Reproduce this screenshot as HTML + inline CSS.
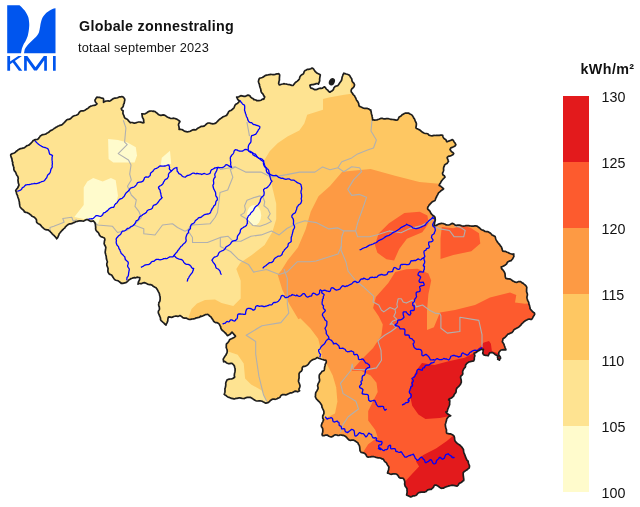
<!DOCTYPE html>
<html><head><meta charset="utf-8"><style>
html,body{margin:0;padding:0;background:#fff;}
svg{display:block;font-family:"Liberation Sans",sans-serif;}
</style></head><body>
<svg width="640" height="507" viewBox="0 0 640 507">
<defs><clipPath id="bel"><polygon points="10.8,154.4 11.7,153.9 12.7,153.5 13.7,153.2 14.6,152.8 15.5,152.1 16.2,151.3 17.1,150.8 17.9,150.0 18.8,149.4 19.7,148.9 20.7,148.6 21.8,148.4 22.8,148.1 23.9,147.9 24.8,147.5 25.6,146.7 26.4,146.1 27.3,145.6 28.3,145.3 29.2,144.9 29.9,144.1 30.7,143.5 31.4,142.7 32.1,142.0 32.7,141.1 33.4,140.4 34.4,139.9 35.4,139.7 36.5,139.5 37.5,139.3 38.4,138.8 39.0,137.8 39.7,136.9 40.3,136.0 41.1,135.5 42.0,134.9 43.0,134.6 44.1,134.5 45.1,134.2 46.1,133.9 46.9,133.2 47.8,132.8 48.7,132.3 49.4,131.6 50.2,130.8 51.1,130.4 52.0,129.9 52.9,129.4 53.7,128.9 54.5,128.2 55.4,127.7 56.2,127.1 57.1,126.7 58.0,126.1 59.0,125.8 59.9,125.4 61.0,125.2 61.9,124.8 62.7,124.1 63.4,123.3 64.2,122.6 64.9,121.9 65.6,121.1 66.3,120.4 67.1,119.7 68.1,119.3 69.2,119.3 70.2,118.9 71.0,118.3 71.7,117.5 72.4,116.7 73.2,116.2 74.2,115.8 75.2,115.5 76.3,115.2 77.2,114.8 78.1,114.3 78.7,113.4 79.2,112.4 80.0,111.7 80.8,111.0 81.8,110.8 83.0,110.8 84.1,110.6 84.9,110.2 85.8,109.6 86.7,109.0 87.6,108.5 88.5,107.9 89.2,107.0 90.1,106.6 91.0,106.1 92.1,105.8 93.1,105.5 94.1,105.3 95.2,105.2 96.1,104.6 97.0,103.8 96.1,102.8 95.3,101.8 94.9,100.1 95.5,99.2 96.0,98.3 96.8,97.2 98.3,97.4 99.5,97.4 100.7,97.8 101.8,98.2 103.2,98.3 103.6,99.3 103.6,100.3 103.6,101.4 103.5,102.3 104.5,101.6 105.6,101.2 106.8,101.0 108.1,100.9 109.3,101.1 110.4,100.7 111.4,100.1 112.4,99.2 113.4,98.6 114.4,98.2 115.5,98.1 116.6,98.0 117.6,97.7 118.6,97.2 119.6,96.8 120.8,96.9 121.9,96.5 123.0,97.0 123.8,97.7 124.7,98.9 124.8,100.1 124.5,101.4 124.3,102.6 124.1,103.5 123.5,104.4 123.4,105.7 123.0,106.8 122.3,107.6 121.3,108.4 121.5,109.4 122.1,110.2 123.1,110.7 123.0,112.1 122.9,113.3 123.3,114.4 123.8,115.4 124.2,116.5 124.5,117.6 125.3,118.2 126.2,118.8 127.1,119.2 127.8,119.8 128.6,120.9 129.5,121.8 130.3,122.8 131.3,122.5 132.3,122.5 133.4,122.9 134.4,123.2 135.4,123.0 136.4,122.6 137.5,122.3 138.5,122.0 139.5,122.0 140.5,122.2 141.6,122.4 142.6,122.8 143.9,122.7 143.7,121.7 143.7,120.7 143.6,119.7 143.3,118.7 142.6,117.8 142.3,116.8 142.2,115.8 142.1,114.8 141.8,113.8 142.9,113.8 144.0,114.0 145.0,113.8 146.0,113.3 147.0,112.7 147.8,112.0 148.8,111.4 149.9,111.1 151.0,111.0 151.8,111.0 152.7,111.3 153.9,111.2 154.9,111.5 155.7,112.1 156.5,112.8 157.3,113.4 158.1,114.2 158.9,114.8 159.9,115.1 160.9,115.5 162.0,115.1 163.2,114.9 164.2,115.1 165.1,115.6 166.0,116.1 166.9,116.7 167.8,117.2 168.8,117.6 169.7,118.0 170.7,118.4 171.7,118.5 172.8,118.3 173.9,118.2 175.0,118.5 176.0,118.9 177.0,119.3 177.9,119.9 178.8,120.5 179.9,121.5 179.4,122.5 178.8,123.5 178.5,124.5 178.6,125.6 178.9,126.6 179.1,127.6 179.2,128.7 179.1,129.3 180.2,129.2 181.2,129.5 182.2,129.7 183.2,130.3 184.2,130.9 185.2,131.4 186.2,131.6 187.3,131.8 188.4,131.7 189.5,131.5 190.2,131.2 191.1,130.7 192.0,130.2 192.9,129.8 194.0,129.7 195.2,129.8 196.2,129.6 197.0,128.9 197.8,128.2 198.8,127.7 199.7,127.3 200.6,126.6 201.6,126.4 202.8,126.4 203.9,126.2 204.7,125.6 205.6,124.9 206.4,124.0 207.3,123.4 208.4,123.0 209.5,123.0 210.6,123.4 211.8,123.6 212.9,123.8 213.9,123.7 215.3,123.4 216.2,122.8 216.9,122.0 217.7,121.2 218.4,120.4 219.2,119.7 220.0,119.0 220.9,118.4 221.8,117.8 222.6,117.0 223.5,116.6 224.6,116.2 225.6,115.8 226.7,115.4 227.1,114.4 227.8,113.6 228.2,112.7 228.7,111.7 229.4,111.1 230.4,110.6 231.4,110.2 232.2,109.5 232.9,108.8 233.7,108.2 234.2,107.3 234.6,106.3 235.0,105.3 235.6,104.5 236.4,103.9 237.3,103.4 238.2,102.8 238.8,102.0 239.3,101.0 238.4,100.2 237.7,99.3 237.2,98.2 236.7,97.1 237.8,97.1 238.8,96.8 239.8,96.2 240.8,95.7 241.9,95.9 243.0,96.1 244.0,96.3 245.0,96.4 246.0,95.9 247.0,95.4 248.0,95.2 249.0,95.4 249.9,95.7 250.3,96.6 251.0,97.4 251.8,98.0 252.8,98.5 253.6,99.1 253.7,99.6 254.8,99.7 255.9,100.0 256.9,100.7 258.0,100.7 259.0,100.6 260.0,100.5 261.1,100.2 262.0,99.5 263.0,98.9 263.7,99.3 264.3,97.9 264.7,96.9 264.0,96.1 263.5,95.1 263.0,94.1 262.3,93.3 261.6,92.6 261.1,91.6 260.9,90.8 260.8,89.7 260.6,88.7 260.2,87.7 259.9,86.7 259.6,85.7 259.5,84.6 259.1,83.6 258.7,82.6 258.4,81.6 258.7,80.1 259.3,78.5 260.2,78.0 261.2,77.8 262.2,77.5 263.1,77.1 263.9,76.5 264.8,75.8 265.7,75.4 266.7,75.1 267.7,75.0 268.8,74.7 269.8,74.6 270.8,74.4 271.9,74.5 272.9,74.6 274.0,74.7 275.0,74.5 276.0,74.1 277.0,73.8 278.1,73.8 278.8,73.7 279.7,75.0 279.6,76.0 279.5,77.1 279.4,78.1 279.4,79.2 279.4,80.2 279.0,81.2 278.9,82.3 278.6,83.3 279.2,84.8 280.4,84.6 281.5,84.3 282.7,84.0 283.7,83.7 284.8,83.9 285.8,84.0 286.9,84.2 287.9,84.5 288.9,84.6 290.0,84.7 291.0,85.1 292.0,85.5 293.2,85.4 293.8,84.4 294.5,83.6 295.2,82.7 296.1,82.0 297.0,81.4 297.9,80.7 298.6,79.9 299.2,79.2 299.6,78.2 299.8,77.1 300.3,76.2 300.9,75.4 301.8,74.8 302.7,74.3 303.6,73.6 303.9,72.4 304.4,71.3 305.1,70.5 306.3,70.0 307.2,69.4 308.4,69.4 309.6,69.2 310.8,68.8 312.1,68.1 313.1,68.5 313.8,69.3 314.3,70.2 314.9,71.1 315.6,71.8 316.4,72.5 317.3,73.3 318.3,73.7 319.4,74.2 320.3,75.0 320.1,76.1 319.9,77.2 319.7,78.4 319.6,79.5 319.7,80.7 319.3,81.9 318.8,83.2 318.4,84.1 317.3,83.6 316.2,83.6 315.0,84.2 313.9,84.4 313.1,84.7 311.9,84.6 310.9,84.8 309.9,85.3 310.3,86.8 310.9,88.2 312.2,88.3 313.4,88.9 314.8,89.7 315.9,89.7 316.9,89.4 317.9,88.9 319.0,88.5 320.0,88.2 321.1,88.3 322.3,88.2 323.1,87.6 324.4,86.8 325.3,87.4 325.9,88.5 326.7,89.3 327.7,90.1 328.5,91.2 329.9,92.2 330.8,91.6 331.8,91.0 332.8,90.3 333.5,89.4 333.8,88.1 334.5,87.2 335.3,86.4 336.5,86.0 337.7,85.6 338.5,84.7 339.2,83.8 339.7,82.8 340.4,81.9 341.1,81.0 341.6,80.0 341.9,78.8 342.0,77.8 342.3,76.8 342.6,75.9 342.9,74.9 343.4,74.0 343.8,73.2 345.0,73.6 346.2,74.0 347.3,74.3 348.5,74.7 349.4,75.3 350.1,76.2 350.6,77.3 351.3,78.2 351.8,78.9 351.9,80.2 352.2,81.3 352.9,82.3 353.8,83.2 354.5,84.6 354.4,85.6 354.1,86.5 353.5,87.4 352.7,88.1 351.8,88.9 351.3,89.8 351.1,90.8 351.3,91.9 352.0,92.7 352.6,93.5 353.1,94.5 353.8,95.2 354.6,95.9 355.0,96.9 355.6,97.8 356.0,98.8 356.4,99.8 356.9,100.7 357.6,101.4 358.2,102.5 358.7,103.6 358.8,104.9 359.4,106.5 360.5,106.7 361.6,107.2 362.6,107.7 363.6,108.1 364.7,108.3 365.8,108.4 367.0,108.4 368.2,108.7 369.3,109.3 370.3,110.2 370.8,110.0 370.9,111.1 371.2,112.1 371.3,113.2 371.6,114.3 372.0,115.4 372.1,116.4 372.4,117.5 372.5,118.6 372.6,119.9 373.7,119.9 374.8,120.2 375.8,120.0 376.9,119.9 377.9,119.5 378.9,119.2 380.0,118.7 381.0,118.4 382.1,118.3 383.1,118.6 384.2,118.9 385.3,118.8 386.3,118.6 387.4,118.7 388.5,118.7 389.6,119.0 390.6,119.3 391.7,119.4 392.8,119.5 393.9,119.7 395.0,119.9 396.1,120.1 397.5,120.0 398.1,119.1 398.6,118.1 399.1,117.1 400.1,116.6 401.0,116.0 401.7,115.2 402.5,114.5 403.5,114.1 404.4,113.6 405.1,113.1 406.1,113.2 407.1,113.2 408.1,113.2 408.8,113.1 409.5,113.8 410.5,114.3 411.6,114.7 412.3,115.5 412.9,116.4 413.5,117.2 413.8,118.4 414.4,118.8 414.8,119.8 415.2,120.9 415.7,122.0 416.3,123.1 416.4,124.2 416.3,125.3 416.1,126.5 415.9,127.8 416.6,128.5 417.6,128.9 418.4,129.4 419.4,129.8 420.2,130.3 421.0,131.0 421.7,131.7 422.6,132.1 423.4,132.8 424.4,133.2 425.3,133.5 426.5,133.5 427.5,133.8 428.4,134.3 428.8,135.0 429.9,135.5 430.9,135.7 432.0,135.8 433.0,135.6 434.1,135.4 435.2,135.5 436.2,135.3 437.3,135.4 438.4,135.4 439.4,135.3 440.5,135.1 441.5,135.0 442.7,135.4 442.9,136.5 443.3,137.5 443.9,138.3 444.7,139.0 445.7,139.5 446.2,140.4 446.7,141.7 447.7,141.6 448.7,141.1 449.6,140.7 450.6,140.4 451.6,139.9 452.4,139.6 453.3,140.4 453.8,141.4 454.4,142.3 455.2,143.3 455.9,144.8 455.3,145.6 454.6,146.3 453.6,146.8 452.6,147.2 451.6,147.6 450.7,148.1 450.0,149.7 450.7,150.4 451.2,151.3 451.9,152.0 452.9,152.5 453.7,153.6 453.1,154.5 452.2,155.1 451.4,155.5 450.4,155.9 449.3,156.1 448.3,156.4 447.2,157.3 447.3,158.3 447.8,159.3 448.1,160.2 448.5,161.2 447.9,162.1 447.3,163.2 446.4,163.8 445.4,164.3 444.5,165.1 444.3,166.1 443.8,167.0 443.6,168.0 443.5,169.0 443.7,170.1 443.4,171.1 443.0,172.1 442.5,173.1 442.7,174.2 443.3,175.2 444.4,175.8 445.0,177.2 444.2,178.0 443.5,178.7 442.7,179.5 442.1,180.3 441.4,181.1 440.9,182.0 440.5,183.0 439.8,183.8 439.2,185.4 440.3,185.9 441.1,186.6 442.0,187.3 442.8,188.0 443.6,188.8 442.8,189.5 442.0,190.1 441.0,190.7 440.3,191.4 439.5,192.1 438.6,192.7 438.2,193.7 437.7,194.7 437.1,195.5 436.7,196.5 436.2,197.5 435.7,198.4 435.4,199.5 434.9,200.6 433.9,201.1 432.8,201.5 431.9,202.1 431.2,202.9 430.5,203.6 429.8,204.5 429.0,205.2 428.5,206.1 427.9,207.0 427.6,207.9 427.7,209.2 428.7,210.0 429.6,210.8 430.2,211.8 430.6,212.8 431.3,213.9 432.1,214.7 433.0,215.5 433.8,216.0 434.6,216.6 435.1,217.8 435.2,218.9 435.3,220.1 435.0,221.2 434.7,222.3 434.5,223.4 434.4,224.5 434.1,225.5 435.2,225.6 436.3,225.5 437.3,224.8 438.3,224.3 439.3,223.8 440.4,223.6 441.6,223.4 442.6,223.5 443.6,223.7 444.6,224.0 445.6,224.6 446.6,224.9 447.6,225.0 448.6,225.0 449.6,224.7 450.6,224.2 451.6,223.6 452.8,223.4 453.7,223.9 454.6,224.7 455.5,225.1 456.5,225.3 457.5,225.2 458.6,225.1 459.6,225.2 460.5,225.3 461.5,225.7 462.5,226.0 463.5,226.1 464.6,226.0 465.6,225.7 466.6,225.5 467.6,225.6 468.6,225.6 469.6,225.8 470.6,226.0 471.7,226.1 472.7,226.1 473.7,226.1 474.7,225.9 475.8,225.9 476.8,226.1 477.7,226.6 478.5,227.2 479.3,227.8 480.1,228.4 480.8,229.3 481.7,229.8 482.7,230.1 483.6,230.4 484.4,231.1 485.3,231.5 486.4,231.6 487.4,231.7 488.4,231.9 489.3,232.4 490.1,233.0 490.9,233.7 491.4,234.1 492.0,235.0 493.1,235.4 494.1,236.0 495.1,236.6 495.4,237.6 495.7,238.7 496.1,239.8 496.6,240.7 497.2,241.5 497.7,242.5 498.4,243.2 499.0,244.0 499.8,244.7 500.2,245.7 500.9,246.4 501.6,247.2 501.8,248.3 502.1,249.2 502.4,250.2 503.0,251.2 504.1,251.3 505.2,251.3 506.1,251.7 507.1,252.2 508.1,252.5 509.0,253.1 510.0,253.5 511.0,253.8 512.0,254.0 512.9,254.5 513.8,254.0 513.7,255.1 513.9,256.3 513.5,257.2 513.0,258.1 512.5,259.0 511.8,259.8 511.1,260.6 510.0,260.9 509.1,261.3 508.1,261.8 507.3,262.4 506.8,263.6 506.1,264.4 505.3,265.0 504.4,265.6 503.5,266.0 502.5,266.5 501.3,266.9 501.4,268.0 501.9,269.0 502.8,269.8 503.5,270.7 504.1,271.6 504.6,272.6 505.0,273.6 505.1,274.7 505.2,275.9 505.3,277.0 505.9,278.4 506.9,278.6 508.0,278.8 509.1,278.9 510.1,279.1 511.0,279.6 511.9,280.2 512.6,280.9 513.6,281.3 514.5,281.9 515.5,282.2 516.5,282.3 517.5,282.1 518.6,281.6 519.7,281.5 520.7,281.6 521.6,282.5 522.5,283.2 523.0,283.0 523.7,283.9 524.7,284.6 525.5,285.4 526.3,286.3 526.8,287.3 526.7,288.4 526.6,289.6 526.6,290.7 526.6,291.8 527.0,292.9 527.4,294.1 527.4,295.1 527.1,296.2 526.9,297.3 527.1,298.4 527.4,299.4 527.6,300.4 528.2,301.4 528.7,302.4 528.9,303.4 528.9,304.2 529.4,305.1 529.7,306.2 530.0,307.2 530.0,308.5 530.5,309.3 531.2,310.2 532.0,310.9 532.6,311.7 533.5,312.3 534.4,313.0 534.7,314.2 534.2,315.2 533.6,316.1 533.0,317.1 532.5,318.1 531.7,319.3 530.6,319.4 529.3,319.0 528.2,319.3 527.3,319.7 526.3,320.1 525.4,320.7 524.5,321.3 523.6,322.0 522.9,322.8 522.1,323.5 521.4,324.2 520.8,325.2 520.0,325.9 519.3,326.6 518.4,327.2 517.5,327.7 516.5,328.3 515.6,328.8 514.7,329.3 513.8,329.9 513.3,330.9 512.6,331.8 511.8,332.6 510.8,333.0 509.8,333.4 508.8,333.9 507.7,334.3 507.0,335.2 506.2,336.1 505.6,336.8 504.8,337.5 503.8,338.2 502.9,339.0 502.7,340.5 502.3,341.8 503.0,342.7 503.6,343.6 504.1,344.7 504.4,345.7 504.8,346.7 505.1,347.8 505.6,348.8 505.9,349.8 504.7,349.9 503.4,349.7 502.2,349.8 500.7,350.2 499.8,351.3 498.8,352.6 498.8,353.8 498.8,354.9 498.0,356.1 497.4,356.9 497.8,357.9 498.1,358.9 497.7,359.2 498.9,359.7 499.4,360.2 499.9,359.0 500.6,358.2 500.2,356.8 499.4,355.7 498.3,355.9 497.3,355.5 496.4,355.1 495.3,354.7 494.5,353.9 493.6,353.3 492.8,352.6 491.4,352.6 489.6,352.8 489.1,353.8 488.6,354.9 488.1,355.8 487.0,355.5 485.9,355.3 484.5,355.2 483.5,354.5 482.7,353.1 483.0,351.9 483.1,350.6 483.4,349.3 481.8,349.3 480.4,349.8 479.2,350.4 478.0,351.0 476.9,351.8 476.1,352.5 475.2,352.9 474.2,353.1 474.4,354.5 474.9,355.9 474.4,357.0 474.3,358.3 474.3,359.5 473.7,360.9 472.6,361.2 471.4,361.3 470.3,361.6 469.0,361.9 468.0,362.6 467.0,363.3 466.2,364.2 465.5,365.3 465.5,366.4 465.2,367.3 464.3,368.1 463.8,368.9 463.3,369.9 462.8,370.8 462.6,371.8 462.7,372.9 462.8,373.9 462.3,374.8 461.4,375.6 460.7,376.6 460.6,377.7 460.9,378.9 461.2,380.0 461.3,381.2 461.3,382.3 460.8,383.4 460.4,384.5 459.7,385.3 459.0,386.1 458.2,386.9 457.4,387.6 456.7,388.4 456.3,389.5 456.1,390.6 456.1,391.9 455.6,392.9 454.8,393.8 454.1,394.8 453.8,395.8 453.0,396.6 452.2,397.3 451.4,398.0 450.4,398.4 449.3,398.8 448.6,400.0 449.6,400.0 449.8,401.1 449.7,402.1 449.6,403.2 449.7,404.3 449.4,405.3 449.0,406.3 448.6,407.3 448.2,408.1 447.8,409.1 447.5,410.2 447.3,411.4 446.7,412.3 445.9,412.0 446.6,412.9 447.3,413.7 448.2,414.1 449.0,414.8 449.9,415.4 450.7,415.7 449.7,416.1 448.8,416.6 447.9,417.3 447.3,418.3 446.7,419.0 446.6,420.1 446.3,421.1 446.0,422.1 445.7,423.2 445.3,424.2 445.4,425.3 445.5,426.3 445.7,427.4 445.9,428.4 446.4,429.4 446.5,430.5 446.4,431.6 446.5,432.8 447.3,433.5 448.3,433.7 449.3,433.9 450.5,433.9 451.4,434.3 452.3,434.8 453.6,435.5 454.1,436.4 454.5,437.5 454.6,438.7 454.7,439.9 455.1,441.0 455.7,441.9 456.5,442.7 457.4,443.5 458.3,444.1 459.2,444.7 460.1,445.3 460.9,446.1 461.7,446.8 462.2,447.8 462.9,448.6 463.5,449.6 463.5,450.7 463.7,451.8 463.9,452.9 464.4,453.9 464.8,454.9 465.2,455.9 465.5,457.0 466.0,458.0 466.4,458.9 466.8,460.0 467.6,460.7 468.2,461.2 468.2,462.2 468.5,463.3 468.9,464.4 469.4,465.4 469.5,466.4 469.2,468.0 468.3,468.6 467.5,469.3 466.7,470.1 465.7,470.6 464.8,471.2 464.0,471.8 463.2,472.8 463.2,473.9 463.2,474.9 463.3,476.0 463.5,477.0 463.6,478.1 463.8,479.1 463.7,480.6 462.8,481.1 462.1,481.8 461.2,482.4 460.3,482.9 459.3,483.3 458.7,484.2 458.2,485.2 457.1,486.1 456.0,485.9 455.0,485.7 453.9,485.4 452.9,485.4 451.8,485.2 450.7,485.5 449.7,485.8 448.8,485.8 447.9,486.4 446.9,486.5 445.9,486.9 444.9,487.2 444.1,487.7 443.6,488.2 442.5,488.2 441.4,488.3 440.4,487.9 439.6,487.4 438.8,486.6 437.9,486.0 437.0,485.5 436.1,485.1 434.6,485.1 434.0,486.0 433.5,487.1 432.8,487.9 432.0,488.6 431.2,489.3 429.9,489.4 428.8,489.6 427.7,489.9 426.9,490.6 426.4,491.4 425.4,491.8 424.4,492.2 423.3,492.1 422.2,492.0 421.1,492.1 420.1,492.3 418.9,492.6 418.1,493.1 417.3,493.9 416.6,494.9 415.7,495.5 414.7,495.8 413.5,495.8 412.5,496.1 411.6,496.7 410.7,497.0 409.7,496.4 408.6,495.9 407.5,495.5 406.6,495.0 406.8,494.0 407.0,493.0 407.2,491.9 407.0,490.9 407.0,489.8 407.0,488.7 406.4,487.8 405.8,486.9 405.1,486.0 404.9,485.0 404.6,484.0 404.8,482.8 404.7,481.6 404.5,480.5 404.0,479.5 403.2,478.3 402.1,478.2 400.8,478.2 399.8,477.9 399.0,477.3 398.4,476.3 397.9,475.3 397.0,474.5 396.1,474.0 395.1,473.8 394.1,473.9 393.0,473.9 392.0,474.1 390.9,474.3 390.0,474.0 389.0,473.5 388.1,472.9 387.5,473.1 387.8,472.1 388.1,471.1 388.5,470.2 388.7,469.2 388.7,468.1 389.0,467.1 388.4,466.2 387.7,465.3 387.1,464.4 386.7,463.3 386.0,462.5 385.1,461.8 384.3,461.0 383.8,460.0 383.1,459.1 382.1,458.9 381.2,458.4 380.2,458.0 379.2,457.9 378.1,457.8 377.2,457.6 376.1,457.4 375.0,457.0 373.9,456.7 372.8,456.7 371.7,456.6 370.6,456.8 369.4,457.0 368.3,457.1 367.0,456.6 366.4,455.7 365.9,454.6 365.2,453.9 364.4,453.3 363.4,452.9 362.4,452.6 361.2,452.4 360.5,451.5 360.0,450.6 359.9,449.5 359.8,448.4 359.7,447.2 359.5,446.2 359.2,445.2 358.4,444.3 358.1,443.3 357.5,442.4 356.6,441.9 355.6,441.3 354.8,440.7 353.8,440.2 352.8,440.0 351.6,440.2 350.4,440.4 349.1,440.0 348.2,439.2 347.3,438.3 346.6,437.3 345.6,436.5 344.7,435.9 343.8,435.4 342.7,435.3 341.7,435.1 340.6,435.0 339.8,435.0 338.9,435.5 337.8,435.4 336.7,435.0 335.6,434.8 334.6,435.0 333.7,435.6 332.8,436.4 331.8,436.8 330.6,436.8 329.6,436.5 328.5,436.0 327.5,435.2 326.4,435.1 325.3,435.2 324.1,435.6 322.4,435.6 322.1,434.5 322.3,433.3 322.7,432.2 322.8,431.1 322.8,430.0 322.7,428.9 322.3,427.8 321.5,426.8 321.3,425.4 321.6,424.4 321.9,423.4 322.5,422.5 322.9,421.5 323.2,420.6 323.6,419.8 322.7,418.0 322.7,417.0 322.7,416.0 323.2,415.0 323.7,414.1 324.0,413.0 323.9,412.0 323.8,411.0 323.4,410.1 322.9,409.1 322.5,408.2 322.0,407.3 321.9,406.3 321.7,405.2 321.1,404.3 320.5,403.4 319.9,402.5 319.1,401.7 318.3,400.9 317.6,400.1 316.8,399.4 316.1,398.5 315.7,397.5 315.3,396.7 315.5,395.7 315.5,394.6 315.6,393.5 315.8,392.5 316.4,391.6 317.0,390.7 317.5,389.7 318.0,388.8 318.1,387.7 317.8,386.6 317.6,385.5 317.9,384.5 318.3,383.4 318.9,382.4 319.4,381.3 319.6,380.2 319.5,379.1 319.2,378.0 319.2,376.9 319.2,375.8 319.4,374.7 320.1,373.9 320.8,373.1 321.4,372.3 322.0,371.4 323.0,371.0 324.1,370.4 324.4,369.4 324.5,368.4 324.6,367.4 324.8,366.4 325.1,365.4 325.2,364.4 325.7,363.5 326.2,362.6 326.3,361.6 326.0,360.4 324.9,360.2 323.8,359.9 322.7,359.5 321.5,359.2 320.5,358.8 319.3,358.5 318.2,358.0 317.4,357.5 316.4,358.1 315.5,358.7 314.4,359.1 313.2,359.4 312.2,360.0 311.3,360.6 310.4,361.3 309.7,362.3 309.0,363.1 308.4,364.1 307.6,364.8 306.7,365.5 305.7,366.0 304.7,366.4 303.4,366.4 302.6,367.2 302.1,368.2 302.3,369.3 301.9,370.3 301.3,371.2 300.2,371.9 299.5,372.8 299.1,373.7 299.0,374.8 299.1,376.0 299.0,376.9 299.1,377.9 298.8,378.9 298.7,380.0 298.5,381.0 298.7,382.0 299.1,383.0 299.5,384.0 299.8,385.0 300.0,386.0 299.8,387.0 299.4,388.1 298.9,389.1 299.1,390.1 299.6,390.8 298.7,391.3 297.7,391.8 296.6,391.4 295.5,391.2 294.4,391.4 293.5,391.9 292.5,392.5 291.5,392.9 290.5,392.9 289.5,393.2 288.5,393.7 287.5,394.1 286.6,394.7 285.6,394.9 284.5,394.7 283.3,394.6 282.3,394.7 281.4,395.2 280.6,396.0 280.1,397.2 279.1,397.7 278.2,398.1 277.3,398.6 276.4,399.0 275.3,399.3 274.2,399.2 273.0,399.2 272.0,399.4 271.2,400.1 270.3,400.6 269.6,401.5 268.7,402.1 267.9,402.7 266.9,402.9 265.8,403.2 264.9,402.7 264.0,402.2 263.0,401.8 262.1,401.3 261.1,401.0 260.1,400.9 259.1,400.8 257.9,401.0 256.9,401.0 255.9,400.7 255.0,400.3 254.1,399.7 253.2,399.1 252.3,398.5 251.5,397.9 250.6,397.4 249.4,397.3 248.3,397.3 247.3,397.4 246.3,397.6 245.3,398.0 244.3,398.6 243.2,398.5 242.2,398.4 241.1,398.2 240.1,397.9 239.0,397.8 238.0,398.2 237.0,398.3 236.0,398.4 234.9,398.8 233.9,398.9 232.9,398.6 231.8,398.4 231.1,398.3 230.1,397.8 229.0,397.4 227.9,397.0 227.0,396.4 226.1,395.6 225.1,395.0 224.2,394.4 224.6,393.3 224.9,392.2 225.0,391.2 225.0,390.0 224.9,388.9 225.3,387.8 225.5,386.7 225.7,385.8 225.8,384.5 225.7,383.2 226.0,382.1 226.5,381.1 227.2,379.7 228.3,379.4 229.3,379.1 230.5,379.0 231.6,379.0 232.6,378.5 233.5,378.1 234.7,377.0 234.3,375.8 234.4,374.7 234.5,373.6 234.8,372.5 235.0,371.4 235.1,370.3 235.1,369.2 235.0,368.2 234.6,367.2 234.4,366.0 233.8,365.1 233.1,364.3 232.0,363.4 230.9,363.3 229.6,363.6 228.5,363.6 227.4,363.3 226.3,362.7 225.4,361.8 224.3,361.4 223.6,361.8 223.5,360.6 223.2,359.4 223.5,358.4 224.2,357.5 224.7,356.6 225.3,355.7 226.0,354.9 226.4,353.9 227.0,352.8 227.2,351.7 227.2,350.6 227.0,349.5 226.6,348.5 226.2,347.4 226.3,346.3 226.3,345.2 226.4,344.1 227.1,343.3 227.8,342.6 228.5,341.8 229.1,340.9 229.5,339.9 230.4,339.1 231.5,338.8 232.5,338.3 233.5,337.8 234.5,337.3 235.5,336.2 234.9,335.3 234.0,334.5 233.4,333.6 232.6,332.9 232.0,332.1 231.2,332.9 230.5,333.9 229.7,334.6 228.7,335.1 227.3,335.6 226.5,334.4 225.7,333.3 224.9,332.8 224.2,331.9 223.3,331.2 222.5,330.5 221.6,329.7 221.2,328.8 220.7,327.9 220.7,326.9 220.1,325.9 219.6,324.8 219.0,323.9 218.1,323.2 217.2,322.7 215.9,322.6 214.8,322.2 213.9,321.5 213.3,320.7 212.9,319.7 212.2,318.9 211.6,318.1 211.1,317.1 210.4,316.4 209.5,315.9 208.8,315.1 207.8,314.3 206.8,314.5 205.7,314.6 204.6,315.1 203.6,315.5 202.6,316.0 201.5,316.5 200.6,316.1 199.7,317.1 198.8,317.4 197.7,317.6 196.7,317.8 195.7,318.1 194.7,318.7 193.6,318.8 192.6,319.0 191.5,319.1 190.5,319.4 189.4,319.5 188.4,319.1 187.5,318.7 186.6,318.2 185.5,318.1 184.5,318.1 183.5,317.9 182.6,317.4 181.8,316.7 180.9,316.1 179.9,315.6 178.9,316.1 177.8,316.3 176.7,316.1 175.6,316.0 174.6,316.3 173.5,316.6 172.5,317.2 171.5,317.4 170.4,317.1 168.8,316.8 168.2,317.6 168.0,318.6 167.8,319.6 167.8,320.7 167.5,321.7 167.1,322.6 166.6,323.5 166.1,324.4 166.0,325.1 165.1,324.4 164.4,323.6 163.7,322.8 162.8,322.1 162.0,321.4 161.1,320.7 160.5,319.6 160.5,318.4 160.3,317.3 159.8,316.4 159.4,315.4 159.0,314.4 158.5,313.4 158.3,312.3 158.4,311.1 159.0,310.1 159.5,309.1 159.4,308.0 159.3,306.9 158.8,305.8 158.6,304.7 158.8,303.7 158.9,302.6 159.6,301.7 160.0,300.6 160.1,299.5 160.2,298.4 160.1,297.3 160.0,296.3 159.6,295.2 159.5,294.2 159.2,293.1 158.6,292.1 158.2,291.4 157.7,290.4 157.2,289.4 156.6,288.6 156.0,287.7 155.0,287.2 154.1,286.7 153.1,286.2 152.6,285.6 151.6,285.0 150.6,284.6 149.6,284.6 148.5,284.4 147.5,284.1 146.5,283.6 145.6,283.0 144.3,282.6 143.3,282.8 142.3,283.2 141.4,283.6 140.3,283.6 139.3,283.5 138.3,283.1 138.0,284.2 138.2,283.1 138.4,282.1 138.8,281.1 139.4,280.2 139.7,279.2 139.8,277.6 138.8,277.5 137.8,277.2 136.8,277.4 135.6,277.8 134.6,277.8 134.3,277.4 133.2,277.9 132.1,278.3 131.1,278.6 130.1,279.2 129.1,279.7 128.4,280.6 127.5,281.3 126.7,282.1 125.8,282.7 124.8,282.9 123.8,283.1 122.8,283.3 121.6,283.2 121.2,283.4 120.5,282.7 119.7,282.0 118.9,281.4 118.0,280.8 117.0,280.5 115.9,280.2 114.9,279.8 114.2,279.0 113.6,278.1 113.0,277.2 112.4,276.3 111.9,275.3 111.0,274.8 110.0,274.4 109.0,273.8 108.5,272.8 108.0,272.1 107.9,271.0 107.9,269.9 108.1,268.8 107.8,267.7 107.4,266.7 106.9,265.6 106.8,264.5 106.8,263.5 107.3,262.3 107.3,261.2 106.9,260.2 106.5,259.1 106.3,258.1 106.3,257.0 106.1,255.9 105.8,254.9 105.5,253.8 105.2,252.8 105.2,251.7 105.4,250.6 105.5,249.5 105.7,248.4 105.8,247.3 105.4,246.3 104.8,245.3 104.3,244.2 104.1,243.2 104.4,242.1 104.4,241.0 104.9,239.9 104.6,238.4 103.8,237.7 102.7,237.3 101.7,236.9 100.7,236.4 99.9,235.7 99.3,234.7 99.0,233.9 98.6,233.0 97.8,232.2 97.0,231.5 96.3,230.7 95.8,229.8 95.6,228.7 95.7,227.7 95.6,226.6 95.5,225.6 95.4,224.6 95.1,223.6 94.8,222.6 94.1,221.8 93.4,220.9 92.3,221.2 91.1,221.3 90.1,221.1 89.1,220.5 88.2,219.9 87.1,219.5 86.1,219.7 85.1,220.2 84.2,220.8 83.3,221.1 82.2,221.0 81.2,220.9 80.1,220.8 79.1,220.8 78.1,221.2 77.2,221.4 76.2,221.5 75.2,222.1 74.3,222.6 73.5,222.7 72.5,223.2 71.6,223.7 70.3,223.8 69.2,223.9 68.2,224.5 67.3,225.2 66.5,225.9 65.7,226.6 65.0,227.6 64.3,228.4 63.5,228.9 62.9,229.7 62.0,230.5 61.3,231.3 60.6,232.1 59.9,233.0 59.2,233.8 58.9,234.9 58.4,235.9 58.0,236.9 57.5,237.9 56.7,238.8 56.1,237.8 55.4,236.9 54.6,236.1 53.9,235.3 53.0,234.6 52.2,233.8 51.5,232.9 50.6,232.1 49.9,231.2 49.0,230.6 48.2,229.9 47.0,229.8 45.8,229.7 44.8,229.2 43.9,228.6 43.1,227.8 42.3,227.1 41.5,226.3 41.0,225.6 40.3,224.8 39.4,224.2 38.4,223.7 37.5,223.1 36.7,222.4 36.5,221.3 36.5,220.0 36.0,219.1 35.4,218.3 34.6,217.5 33.7,216.9 32.7,216.5 31.6,216.0 31.4,215.4 30.5,214.8 29.7,214.1 28.8,213.6 27.9,213.1 27.0,212.5 26.0,212.4 25.1,212.1 24.4,211.9 24.0,210.9 23.3,210.1 22.5,209.4 21.6,208.8 21.0,208.0 20.3,207.2 19.9,206.2 19.7,205.2 19.6,204.1 19.4,203.2 19.4,202.1 19.1,201.0 18.9,200.0 18.6,199.0 18.2,198.0 17.8,197.0 17.6,195.9 17.2,194.9 16.6,193.9 16.5,192.9 16.2,191.8 15.7,190.7 16.2,189.7 16.9,188.8 17.6,188.0 18.1,187.0 18.6,186.0 19.0,185.1 18.7,184.0 18.3,183.0 18.2,181.8 18.0,180.7 18.0,179.6 18.3,178.4 18.0,177.3 17.7,176.3 17.0,175.5 16.5,174.6 16.1,173.5 15.7,172.5 15.2,171.6 14.4,170.8 13.9,169.7 13.8,168.7 13.9,167.6 13.5,166.6 13.2,165.6 12.8,164.6 12.6,163.6 12.8,162.5 12.3,161.5 12.1,160.5 12.0,159.5 11.8,158.5 11.3,157.5 11.0,156.5 10.7,155.5 10.8,154.4"/></clipPath></defs>
<g clip-path="url(#bel)">
<rect x="0" y="60" width="560" height="447" fill="#fee391"/>
<polygon points="108.1,138.9 118,140.1 127.5,142.5 135.8,147.2 137,155.5 134.6,162.6 113.3,162.6 108.6,159" fill="#fffbcc"/>
<polygon points="83.7,187.4 87.3,181.5 93.2,177.9 102.7,181.5 110.9,177.9 115.7,180.3 118,195.7 115.7,205.1 101.5,214.6 97.9,224 92,219.3 84.9,219.3 74.3,216.9 79,211 83.7,205.1" fill="#fffbcc"/>
<polygon points="161.8,157.8 170,150.7 171.2,163.7 160.6,166.1" fill="#fffbcc"/>
<polygon points="351.3,40 351.3,93.8 342.8,94.9 328.9,97.5 323,98.9 323,109.7 307.2,114.7 304.3,123.6 299.3,130.5 287.5,136.4 277.6,143.3 269.7,151.2 263.8,161.1 268.8,172.9 271.7,184.7 276.2,203.8 276.2,219.2 272.3,232.1 264.6,244.9 251.8,255.1 240.3,262.8 236.3,268.9 240.7,280.7 240.7,298.5 233.3,305.9 221.5,302.9 215,299.4 205,300 197,303.5 191.5,309 189,316 180,340 200,420 600,520 600,40" fill="#fec762"/>
<polygon points="200,345 228.9,351.8 237.7,354.8 243.7,363.6 245.1,378.4 251.1,384.4 261.4,390.3 267.4,402.1 270,420 200,420" fill="#fee391"/>
<polygon points="600,184 441.7,183.9 419.4,181.9 395,175.8 370.6,168.9 342.2,171.7 330,185.9 318.5,196.2 310.8,211.5 305.6,229.5 297.9,247.4 287.7,260.3 281.3,270.5 277.7,274.8 282.2,289.6 289.6,304.4 298.4,319.2 300.3,318.2 310.5,328.5 318.2,338.7 320.8,349 322,356 318,400 318,520 600,520 600,184" fill="#fd9a44"/>
<polygon points="320,355 325.5,361.3 332.7,375.5 336.2,387.4 337.4,401.6 335,413.5 325.5,418.2 315,420 315,355" fill="#fec762"/>
<polygon points="374.9,245.1 378.7,233.6 389,223.3 404.4,213.1 419.7,211.8 427.4,215.6 428.7,223.3 422.3,232.3 406.9,238.7 399.2,249 394.1,260.5 386.4,259.2 377.4,252.8" fill="#fd5b2e"/>
<polygon points="440.5,238.5 441.8,226.9 453.3,228.2 463.6,225.6 471.3,228.2 479,233.3 480.3,243.6 471.3,251.3 453.3,255.1 440.5,259" fill="#fd5b2e"/>
<polygon points="395.2,272.1 406.3,269.3 417.5,268.8 428.4,273.5 431.2,280.4 428.4,294.2 427,310.8 427,330.1 433.9,327.3 440,312.5 455,310 475,305 490,297.5 510,292.5 516.3,295 515,302.5 525,303.75 560,300 560,520 370,520 368.2,460 363.5,451.4 368.2,444.3 377.7,437.2 375.3,430 368.2,420.6 368.2,411.1 372.9,401.6 377.7,392.1 376.5,382.7 370.6,375.5 361.1,370.8 351.6,370.8 362.1,359.1 373.1,348.1 381.4,335.6 382.8,324.6 378.7,316.3 373.1,308 375.9,297 388.3,283.1" fill="#fd5b2e"/>
<polygon points="409.5,393.3 411.3,380.8 416.6,370.2 422,363.1 434.4,364.9 448.6,361.3 464.6,357.8 473.4,353.3 480.6,346.6 483.4,342.8 489,340.9 490.9,343.7 491.9,351.2 520,360 520,430 448.6,416.3 439.7,418.1 425.5,419 418.4,414.6 412.2,405.7" fill="#e31a1c"/>
<polygon points="398,490 405.4,481.3 412,474 419.1,466.5 415.9,461.2 423.3,454.9 436,448.5 446.5,441.2 452.9,435.9 470,430 480,520 398,520" fill="#e31a1c"/>
<ellipse cx="254" cy="215.2" rx="7.2" ry="10.3" fill="#fffbcc"/>
<polyline points="123.3,120.3 125.9,127.9 124.6,142.1 127.2,144.6 118.2,153.6 128.5,160 131,165.1 129.7,174.1 131.3,180 127.5,186.3 131.3,195 136.3,200 135,206.3 138.8,211.3 141.3,217.5 133.8,225" fill="none" stroke="#b0b0b0" stroke-width="1.1" stroke-linejoin="round"/>
<polyline points="50,232 50,227.4 53.8,226.2 64.1,222.3 62.8,218.5 71.8,217.2 73.1,221 76.9,219.7" fill="none" stroke="#b0b0b0" stroke-width="1.1" stroke-linejoin="round"/>
<polyline points="93.4,221 97.5,225 112.5,226.3 117.5,232.5 127.5,230 133.8,225 143.8,228.8 143.8,233.8 155,235 162.5,225 172.5,223.8 177.5,227.5 185,231.3 187.5,230 192.5,237.5 192.5,242.5 207.5,242.5 220.3,237.4 227.9,236.2 233.1,241.3 240.8,241.3 251,236.2 261.3,234.9 271.5,231 279.2,234.9 286.9,228.5 297.2,223.3 304.9,220.8 316.2,222.6 328.8,228.9 337.9,227.9 343.8,230.9 355.6,230.9" fill="none" stroke="#b0b0b0" stroke-width="1.1" stroke-linejoin="round"/>
<polyline points="187.5,230 192.5,225 210,223.8 215,217.5 217.5,212.5 220,192.6 227.7,190 232.8,177.2 230.3,169.5 235.4,166.9" fill="none" stroke="#b0b0b0" stroke-width="1.1" stroke-linejoin="round"/>
<polyline points="246.9,122.1 249.5,136.2" fill="none" stroke="#b0b0b0" stroke-width="1.1" stroke-linejoin="round"/>
<polyline points="220,169.5 235.4,166.9 245.6,172.1 261,172.1 271.3,177.2 286.7,174.6 299.5,172.1 314.9,172.1 322.6,166.9 330,169.7 337.9,167.8 341.8,161.8 351.7,157.9 357.6,153.9 367.5,150 373.5,148 376.4,140 371,131 372,120.5 373,119.4" fill="none" stroke="#b0b0b0" stroke-width="1.1" stroke-linejoin="round"/>
<polyline points="337.9,167.8 343.8,171.7 351.7,166.8 359.6,167.8 361.6,171.7 357.6,175.6 353.7,179.6 347.8,189.4 351.7,195.4 359.6,194.4 366.5,197.3 364.5,203.3 362.5,209.2 359.6,217.1 357.6,223 355.6,230.9 357.6,236.8 369.4,236.8 377.3,234.8 389.2,230.9 401,232.8 408.9,228.9 420.7,225.9 430,221 434.6,216.7" fill="none" stroke="#b0b0b0" stroke-width="1.1" stroke-linejoin="round"/>
<polyline points="434.6,226.2 440,228.9 449.5,230.5 454.2,236.8 463.7,236.8 465.2,230.5 460.5,227.4 454.2,225.8" fill="none" stroke="#b0b0b0" stroke-width="1.1" stroke-linejoin="round"/>
<polyline points="240.3,215.2 244.2,212.9 245.4,209.7 244.6,205.8 247,200.3 252.9,197.9 260,195.9 263.1,197.5 264.7,201.8 263.9,205.8 267.9,208.9 270.2,213.7 267.9,217.6 271.4,221.5 266.3,223.9 260,226.3 252.9,225.5 245.8,218.4 240.3,215.2" fill="none" stroke="#b0b0b0" stroke-width="1.1" stroke-linejoin="round"/>
<polyline points="220.3,237.4 220.3,246.4 230.5,251.5 238.2,259.2 248.5,264.4 253.6,272.1 266.4,269.5 279.2,274.6 286.9,272.1 297.2,261.8 310,261.8 316,261 338,254 341.5,246" fill="none" stroke="#b0b0b0" stroke-width="1.1" stroke-linejoin="round"/>
<polyline points="343.8,230.9 341.8,236.8 341,250 346,262 348,271 356,281 364,287.3 373.8,296.3 373.1,301.9 378.8,305 381.3,310 383.8,311.9 390,307.5 395,309.4 397.5,306.9 396.9,304.4 398.1,298.8 401.3,298.8 403.1,301.9 406.3,303.1 412.5,300 415,303.8 416.3,306.9 422.5,305 430,310.6 435,313.1 440,313.8 440.9,315.7 440.9,328.3 447.3,333.1 459.9,331.5 459.9,317.3 478.8,320.4 482,334.6 482,347.3" fill="none" stroke="#b0b0b0" stroke-width="1.1" stroke-linejoin="round"/>
<polyline points="395,309.4 395.6,312.5 393.8,316.3 396.9,319.4 392.5,321.3 390,324.4 392.5,323.8 396.3,327.5 391.3,331.3 385,335 380,338.8 377.9,341 381,350.4 381.5,360.3 376.4,367.9 366.1,369.9 353.3,369.2 352.1,364.1 350.8,370.5 340.5,383.3 343.1,393.6 355.9,401.3 358.5,409 348.2,416.7 343.1,424.4 340.5,432.1" fill="none" stroke="#b0b0b0" stroke-width="1.1" stroke-linejoin="round"/>
<polyline points="284,269 287.3,278.4 287.3,291 287.3,303.6 288.8,313.1 280.9,322.6 262,325.7 246.2,335.2 255.7,341.5 255.7,354.1 258.9,376.2 263.6,395.1 266.8,401.4" fill="none" stroke="#b0b0b0" stroke-width="1.1" stroke-linejoin="round"/>
<polyline points="34.6,140.3 35.2,141.0 35.8,141.6 36.4,142.3 37.1,142.9 37.9,143.5 38.4,144.3 39.2,144.8 40.0,145.3 40.8,145.7 41.6,146.3 42.4,146.7 43.2,147.1 44.2,147.3 45.1,147.5 46.0,147.9 46.9,148.2 48.0,148.9 48.4,149.8 48.8,150.7 49.0,151.6 49.2,152.6 49.5,153.6 50.0,154.4 50.9,154.7 51.8,155.1 52.5,155.6 52.3,156.6 52.0,157.6 52.1,158.7 52.0,159.4 52.1,160.4 52.3,161.3 52.2,162.3 52.4,163.3 52.3,164.3 52.1,165.3 52.2,166.3 52.3,167.0 51.8,167.8 51.3,168.6 50.9,169.4 50.7,170.4 50.5,171.4 50.2,172.3 49.7,173.1 49.2,173.9 48.3,174.4 47.7,175.2 47.3,176.0 47.0,176.9 46.7,177.8 46.0,178.4 45.5,179.2 44.9,180.0 44.3,180.7 43.6,181.1 42.7,181.4 41.7,181.6 40.9,182.0 40.0,182.4 39.2,182.8 38.3,183.0 37.4,183.3 36.5,183.6 35.5,183.6 34.5,183.4 33.7,183.7 32.8,183.8 31.8,183.8 31.0,184.1 30.1,184.3 29.2,184.7 28.3,184.7 27.4,184.7 26.5,184.8 25.6,185.0 24.9,185.7 24.3,186.4 23.7,187.1 22.8,187.4 22.1,188.0 21.7,189.1 21.0,189.7 20.3,190.2 19.4,190.6 18.3,190.9 17.4,191.5" fill="none" stroke="#0000ff" stroke-width="1.3" stroke-linejoin="round"/>
<polyline points="87.2,219.7 88.1,219.5 88.9,219.2 89.8,218.9 90.7,218.8 91.6,218.7 92.6,218.8 93.4,218.3 94.1,217.6 94.8,216.9 95.5,216.1 96.3,215.7 97.3,215.7 98.3,215.9 99.3,216.2 100.3,216.4 101.2,216.1 101.9,215.5 102.7,214.7 103.1,213.7 103.6,212.9 104.5,212.6 105.4,212.3 106.0,211.6 106.8,211.1 107.6,210.6 108.2,209.9 108.8,209.2 109.5,208.5 110.3,208.1 111.1,207.7 112.0,207.4 113.3,207.4 114.0,206.8 114.3,205.9 114.6,204.9 115.3,204.2 115.8,203.5 116.7,203.1 117.3,202.4 117.7,201.5 118.3,200.8 118.8,200.1 119.4,199.4 120.2,199.0 121.3,198.7 122.2,198.2 122.8,197.6 123.5,197.0 124.2,196.3 124.6,195.4 125.1,194.7 125.5,193.8 126.0,193.0 126.7,192.4 127.4,191.8 128.1,191.2 128.8,190.6 129.3,189.8 129.9,189.0 130.4,188.2 131.3,187.9 132.1,187.5 133.2,187.3 134.1,187.0 134.8,186.4 135.5,185.8 136.1,185.1 136.7,184.3 137.1,183.4 137.7,182.6 138.6,182.3 139.6,182.1 140.6,182.0 141.6,181.8 142.4,181.4 143.2,180.9 143.7,179.9 144.2,178.9 144.5,177.7 145.3,177.2 146.2,176.9 147.4,177.1 148.5,177.1 149.1,176.3 149.9,175.8 150.4,175.0 150.3,173.9 150.7,173.0 151.4,172.4 152.2,171.8 153.0,171.2 153.4,170.3 154.1,169.6 154.5,169.0 155.4,168.7 156.4,168.3 157.3,167.9 158.1,167.5 158.9,166.7 159.7,166.1 160.7,165.8 161.8,166.1 162.8,166.2 163.8,166.2 164.7,166.0 165.7,165.8 166.6,165.5 167.5,165.1 168.8,164.8 169.1,165.7 169.3,166.6 169.6,167.5 169.3,168.7 169.7,169.6 171.4,170.9 172.2,170.5 172.9,169.5 173.7,168.9 174.6,168.3 175.5,167.8 176.5,167.8 176.9,167.5 176.9,168.5 177.1,169.4 177.1,170.3 177.2,171.2 178.0,172.0 178.5,172.9 178.8,173.6 179.7,173.9 180.6,174.5 181.4,175.1 182.1,176.0 182.9,176.6 183.9,176.9 185.3,177.2 186.1,176.4 186.9,175.9 187.7,175.4 188.7,175.3 189.5,174.9 190.5,174.7 191.2,174.0 192.0,173.5 192.9,173.2 193.9,173.2 195.1,173.7 196.1,173.8 196.3,173.5 197.4,173.4 198.3,173.6 199.2,173.9 200.3,173.9 201.2,174.2 201.6,174.5 202.5,174.1 203.5,173.6 204.5,173.5 205.7,174.0 206.9,174.4 207.9,174.2 208.8,173.9 210.1,173.2 210.4,172.2 210.7,171.2 211.1,170.4 211.7,169.6 212.6,169.3 213.5,168.8 214.3,168.4 214.5,168.0 215.6,167.9 216.7,167.6 217.8,167.5 218.9,167.5 219.2,167.8 220.2,167.6 221.2,167.6 222.3,167.5 223.2,167.3 224.0,166.8 224.8,166.3 225.3,165.3 226.3,164.6 227.3,164.8 228.1,165.4 228.9,165.9 229.7,166.4 230.6,166.8 231.4,167.4 231.3,166.4 230.9,165.5 230.6,164.5 230.7,163.5 230.8,162.5 230.6,161.6 230.4,160.6 230.5,159.6 230.3,158.7 230.4,157.7 230.5,156.9 231.2,156.3 231.5,155.3 232.2,154.7 232.8,154.1 233.4,153.3 233.8,152.5 234.0,151.5 234.4,150.6 235.4,149.7 236.3,149.8 237.2,150.0 238.1,150.6 239.1,151.0 240.0,151.1 240.9,151.1 241.8,151.1 242.7,151.0 243.6,150.5 244.5,149.6 245.5,149.4 246.4,149.5 247.3,149.8 248.2,150.3" fill="none" stroke="#0000ff" stroke-width="1.3" stroke-linejoin="round"/>
<polyline points="248.2,150.3 248.2,149.3 248.3,148.4 248.2,147.4 248.4,146.5 248.5,145.5 249.0,144.7 249.5,143.8 250.3,143.0 250.8,142.1 251.0,141.1 251.0,140.1 251.0,139.0 251.1,138.0 251.2,136.9 251.7,135.7 252.6,135.4 253.6,135.1 254.4,134.7 255.4,134.4 256.1,133.8 256.6,133.0 257.1,132.2 257.6,131.4 258.0,130.9 258.3,129.9 259.0,129.1 259.7,128.2 259.9,126.7 259.1,126.2 258.3,125.8 257.4,125.5 256.4,125.4 255.5,124.9 254.6,124.7 253.6,124.5 252.8,124.0 252.2,123.2 251.4,122.6 250.3,122.6 249.3,122.2 248.7,121.5 248.2,120.7 247.8,119.8 247.6,118.8 247.3,117.9 246.8,117.1 246.4,116.2 246.2,115.5 246.0,114.6 245.6,113.7 245.3,112.8 245.1,111.9 244.8,111.0 244.5,110.1 244.6,109.1 244.7,108.2 244.7,107.2 244.7,106.3 244.5,105.3 243.8,104.7 242.9,104.3 242.3,103.6 241.8,102.9 241.1,102.2 240.6,101.5 240.0,100.7 239.2,100.3" fill="none" stroke="#0000ff" stroke-width="1.3" stroke-linejoin="round"/>
<polyline points="126.7,280.4 126.9,279.5 126.9,278.5 127.0,277.5 127.7,276.7 128.3,275.9 128.4,274.9 128.6,274.0 128.6,272.9 128.9,272.1 128.9,271.2 129.2,270.2 129.3,269.2 128.9,268.3 128.2,267.4 127.7,266.5 127.6,265.5 128.0,264.5 128.3,263.5 128.2,262.4 127.7,261.6 126.9,261.0 126.2,260.3 125.4,259.7 125.1,258.8 125.0,257.7 124.7,256.8 124.0,256.1 123.4,255.4 122.7,254.7 122.0,254.0 121.2,253.4 120.9,252.5 120.5,251.6 120.1,250.7 119.9,249.7 119.2,249.0 118.8,248.3 118.7,247.3 118.2,246.4 117.5,245.6 116.8,244.8 116.6,243.8 116.2,242.9 116.2,241.9 116.4,240.8 116.3,239.8 116.1,239.0 116.6,238.2 117.1,237.5 117.8,236.8 118.3,236.1 119.0,235.5 119.8,235.0 120.5,234.3 121.0,233.6 121.4,232.8 121.9,231.9 122.4,231.2 123.4,231.1 124.4,230.9 125.2,230.5 125.9,229.9 126.7,229.3 127.3,228.5 128.3,228.3 129.1,228.0 129.9,227.6 130.5,226.9 131.3,226.3 132.4,226.1 133.2,225.5 133.9,224.8 134.5,224.2 135.1,223.4 135.5,222.4 135.9,221.5 136.4,220.7 137.4,220.3 138.2,219.7 138.8,218.9 139.1,217.9 139.5,216.9 140.2,216.3 141.1,215.9 141.9,215.5 142.6,214.8 143.4,214.3 144.2,213.8 145.0,213.4 145.8,212.9 146.5,212.2 146.9,211.2 147.5,210.5 148.3,210.0 149.2,209.6 150.2,209.4 151.2,209.1 151.9,208.5 152.5,207.8 152.8,206.7 153.2,205.8 153.9,205.1 154.8,204.8 155.9,204.5 156.7,203.9 157.3,203.2 158.0,202.5 158.5,201.7 159.1,200.9 159.6,200.0 160.3,199.4 161.1,198.8 161.7,198.1 162.2,197.6 161.4,196.9 161.2,195.9 161.0,194.9 160.9,194.0 160.7,193.0 160.3,192.1 160.2,191.1 160.1,190.1 159.4,189.3 158.8,188.5 158.5,187.3 159.2,186.5 159.9,185.9 160.9,185.5 161.8,184.9 162.5,184.2 163.1,183.5 163.4,182.4 163.9,181.6 164.4,180.8 164.9,179.9 165.7,179.3 166.7,178.9 167.5,178.2 168.0,177.3 168.5,176.4 168.4,175.3 168.5,174.3 168.9,173.4 169.6,172.6 170.4,171.9 171.3,171.2 171.0,170.0" fill="none" stroke="#0000ff" stroke-width="1.3" stroke-linejoin="round"/>
<polyline points="140.9,267.3 141.8,266.9 142.6,266.5 143.5,266.1 144.2,265.5 145.0,265.0 146.0,264.8 147.0,264.7 148.0,264.7 148.9,264.4 149.7,263.9 150.5,263.3 151.1,262.3 151.8,261.7 152.7,261.4 153.7,261.3 154.5,260.9 155.2,260.1 156.1,259.5 157.1,259.3 158.0,259.4 159.0,259.5 160.0,259.8 161.0,259.6 161.9,259.4 162.8,259.1 163.6,258.6 164.6,258.6 165.5,258.5 166.5,258.6 167.4,258.3 168.2,257.7 169.1,257.2 169.9,256.8 170.9,256.8 171.9,256.9 172.9,256.8 174.0,255.5 174.4,254.7 175.2,254.0 175.7,253.3 176.4,252.6 177.1,252.0 177.5,251.1 178.0,250.3 178.7,249.7 179.2,248.9 179.7,248.1 180.3,247.3 180.8,246.6 181.6,246.0 182.3,245.4 182.8,244.6 183.5,243.9 184.3,243.3 185.1,242.7 185.7,241.9 186.1,241.0 186.2,240.1 185.9,239.0 185.9,238.0 186.0,237.1 186.3,236.2 186.6,235.3 186.9,234.5 187.3,233.7 188.2,233.0 188.5,232.1 188.5,231.1 188.8,230.3 189.4,229.5 190.2,228.9 190.5,228.0 190.3,226.8 190.6,225.9 191.1,225.2 191.5,224.4 192.4,223.8 193.4,223.3 194.3,222.8 194.7,222.0 195.1,221.1 195.3,220.6 196.1,220.1 196.8,219.5 197.6,218.9 198.2,218.1 199.0,217.7 200.0,217.5 201.0,217.3 201.7,216.7 202.4,216.0 203.2,215.6 203.9,215.0 204.8,214.5 205.7,214.4 206.6,214.1 207.6,214.0 208.6,213.9 209.4,213.5 210.4,212.7 210.7,211.9 211.0,211.0 211.5,210.2 211.9,209.4 212.2,208.5 212.8,207.8 213.3,207.1 213.7,206.2 214.3,205.5 215.1,204.9 215.5,204.1 215.7,203.1 215.8,202.2 216.1,201.3 216.6,200.5 217.4,200.0 217.3,199.1 217.3,198.1 216.9,197.3 216.2,196.5 215.8,195.6 215.7,194.7 215.7,193.7 215.6,192.8 215.3,191.9 214.9,191.1 214.5,190.2 214.0,189.4 213.6,188.6 213.4,187.7 213.1,186.8 213.0,185.8 212.9,185.1 213.5,184.3 213.7,183.4 213.7,182.5 213.5,181.5 213.4,180.5 213.6,179.6 213.9,178.8 214.3,178.0 215.1,177.2 215.1,176.3 214.8,175.2 214.8,174.3 215.1,173.5 215.6,172.6 216.0,171.8 216.5,171.0 216.9,170.1 217.0,169.2 217.5,168.4 217.2,167.4" fill="none" stroke="#0000ff" stroke-width="1.3" stroke-linejoin="round"/>
<polyline points="174.0,255.5 174.7,256.1 175.3,256.8 176.0,257.5 176.7,258.1 177.6,258.4 178.5,258.8 179.4,259.1 180.3,259.3 181.3,259.5 182.1,259.9 182.8,260.5 183.4,261.4 183.8,262.4 184.5,263.1 185.2,263.6 186.0,264.1 186.9,264.4 188.0,264.4 188.9,264.7 189.7,265.1 190.4,265.7 191.1,266.4 191.5,267.5 192.2,268.1 193.0,268.6 193.7,268.3 193.4,269.2 193.3,270.1 192.8,271.0 192.6,271.9 192.2,272.7 191.5,273.4 191.0,274.2 190.4,274.9 189.9,275.7 189.3,276.4 188.9,277.3 188.5,278.1 187.9,278.8 187.6,279.7 187.5,280.7 187.0,281.5" fill="none" stroke="#0000ff" stroke-width="1.3" stroke-linejoin="round"/>
<polyline points="221.5,274.6 220.9,273.8 220.5,273.0 220.3,272.0 220.0,271.1 219.4,270.3 218.8,269.6 218.0,269.0 217.0,268.5 216.2,267.9 215.8,267.0 215.6,266.0 215.3,265.1 214.8,264.3 214.2,263.5 213.6,262.8 213.0,262.1 212.6,261.2 211.9,260.2 212.5,259.4 213.0,258.6 213.6,257.9 214.3,257.2 215.3,256.8 216.3,256.5 217.2,256.1 217.9,255.4 218.2,254.4 218.6,253.4 219.1,252.6 219.8,251.9 220.7,251.5 221.5,251.0 222.5,250.7 223.3,250.3 224.1,249.7 224.8,249.1 225.3,248.4 225.8,247.4 226.4,246.7 227.2,246.2 228.0,245.8 228.8,245.3 229.5,244.8 230.2,244.1 230.8,243.4 231.2,242.5 231.9,241.8 232.6,241.2 233.5,240.9 234.5,240.7 235.5,240.5 236.3,240.0 237.0,239.3 237.3,238.3 237.3,237.2 237.5,236.3 238.0,235.4 238.6,234.6 239.2,233.8 239.8,233.0 240.2,232.1 240.3,231.1 240.4,230.1 240.9,229.3 241.7,228.5 242.5,228.0 243.3,227.5 244.0,226.9 245.0,226.6 245.7,226.0 246.4,225.4 246.8,224.5 247.1,223.3 247.5,223.3 247.3,222.3 247.3,221.2 247.3,220.0 247.0,219.5 247.3,218.5 247.6,217.6 248.0,216.8 248.3,215.9 249.1,215.3 249.8,214.7 250.4,214.0 250.7,213.1 251.4,212.4 252.1,211.8 252.8,211.1 253.4,210.4 253.8,209.6 254.2,208.7 254.7,207.9 255.2,207.1 255.8,206.5 256.6,205.9 257.5,205.3 258.2,204.6 258.7,203.8 259.3,203.0 259.8,202.2 260.2,201.3 260.3,200.2 260.6,199.2 260.9,198.3 261.5,197.5 262.1,196.8 262.8,196.3 263.7,195.5 264.0,194.6 264.1,193.7 264.2,192.8 263.9,191.8 263.7,190.9 263.6,189.6 264.3,189.0 265.0,188.3 266.1,188.1 267.0,187.7 267.7,187.0 268.3,186.3 269.0,185.6 269.6,184.9 270.1,184.1 270.5,183.2 271.0,182.3 271.6,181.6 272.0,181.2 271.3,180.5 270.8,179.7 270.6,178.8 270.3,177.9 270.1,176.9 269.9,176.0 269.7,175.1 269.2,174.3 268.5,173.6 267.6,173.0 266.9,172.3 266.6,171.4 266.3,170.5 266.3,169.6 266.1,168.7 265.9,167.8 265.4,167.0 265.1,166.1 264.7,165.3 264.4,164.4 264.2,163.5 263.9,162.7 263.6,161.8 262.8,161.3 262.1,160.8 261.3,160.2 260.6,159.7 259.9,159.1 259.2,158.5 258.4,158.0 257.7,157.5 256.9,157.0 256.2,156.4 255.3,156.1 254.5,155.6 253.7,155.2 252.9,154.7 252.6,153.6 252.3,152.5 251.5,152.0 250.8,151.5 249.7,151.3 248.8,151.1 248.2,150.3" fill="none" stroke="#0000ff" stroke-width="1.3" stroke-linejoin="round"/>
<polyline points="262.6,268.3 263.3,267.7 263.9,267.0 264.5,266.3 265.4,266.0 266.1,265.4 266.8,264.8 267.5,264.3 268.2,263.6 268.9,263.1 269.7,262.7 270.9,262.7 271.8,262.4 272.5,261.8 273.2,261.2 273.6,260.3 274.0,259.3 274.6,258.6 275.3,258.0 276.1,257.4 276.8,257.0 277.6,256.4 278.5,256.2 279.6,256.1 280.5,255.8 281.2,255.3 282.0,254.5 282.3,253.5 282.6,252.6 283.0,251.8 283.6,251.1 284.2,250.3 284.6,249.5 285.4,248.9 286.0,248.2 286.8,247.6 287.4,246.9 287.9,246.1 288.1,245.1 288.2,244.1 288.7,243.3 289.6,242.7 290.4,242.2 291.2,241.5 291.2,240.6 291.2,239.6 291.2,238.6 291.2,237.7 291.4,236.8 291.8,235.9 292.0,234.9 292.3,234.0 292.5,233.1 292.7,232.2 293.0,231.3 293.1,230.3 293.5,229.4 294.1,228.6 294.5,227.7 294.6,226.8 294.3,225.7 293.8,224.8 293.4,223.9 293.5,222.9 293.5,221.9 293.6,220.9 293.4,220.0 293.2,219.0 292.7,218.1 292.0,217.3 291.8,215.8 292.3,215.0 292.8,214.3 293.7,213.7 294.8,213.2 295.4,212.5 295.7,211.6 296.0,210.7 296.4,209.8 296.7,209.0 296.8,208.0 297.1,207.0 297.7,206.3 298.2,205.5 298.8,204.8 299.6,204.2 300.5,203.7 301.0,202.9 301.3,202.0 301.6,201.1 301.6,200.3 301.4,199.5 301.2,198.5 301.5,197.6 301.6,196.7 301.6,195.8 301.5,194.9 301.5,194.0 301.0,193.1 301.0,192.2 301.0,191.3 301.2,190.3 301.6,189.4 301.7,188.5 301.6,187.6 301.4,186.7 301.2,185.8 301.0,184.7 300.3,184.1 299.5,183.5 298.6,183.2 297.8,182.8 296.9,182.4 296.2,181.8 295.6,181.2 294.7,180.7 294.3,180.3 293.4,180.2 292.5,180.1 291.5,180.1 290.6,179.8 289.7,179.2 288.8,178.9 287.8,178.9 286.9,179.1 285.9,179.3 285.0,179.1 284.0,178.9 283.2,178.3 282.2,178.2 281.2,178.3 280.3,177.9 279.4,177.5 278.5,177.3 277.7,176.6 276.9,175.8 276.1,175.3 275.0,175.5 274.0,175.6 273.0,175.5 272.1,175.3 271.0,174.9 270.2,174.3 269.5,173.7 269.1,172.9 268.9,171.8 268.8,170.8 268.4,169.9 267.8,169.2 267.1,168.7 266.5,167.9 265.8,167.3 264.8,166.9 264.3,166.1 263.9,165.2 263.6,164.3 263.4,163.4 263.5,162.4 263.6,161.4 263.6,160.5 262.8,160.0 262.2,159.3 261.4,158.8 260.5,158.5 259.5,158.3 258.6,158.1 257.9,157.4 257.2,156.8 256.6,155.9 256.1,155.1 255.5,154.4 254.7,153.9 253.8,153.5 253.0,153.1 252.1,152.7 251.1,152.6 250.2,152.3 249.6,151.6 248.9,151.0 248.2,150.3" fill="none" stroke="#0000ff" stroke-width="1.3" stroke-linejoin="round"/>
<polyline points="222.6,324.1 223.4,323.6 224.3,323.4 225.2,323.2 225.9,322.4 226.6,321.7 227.5,321.5 228.7,321.9 229.5,321.5 230.0,320.4 230.8,319.9 231.8,319.9 233.1,320.6 234.7,321.0 235.5,320.5 235.8,319.3 236.8,319.0 237.3,318.1 237.5,316.7 237.6,315.1 238.1,314.2 239.1,314.0 240.3,314.0 241.5,314.1 242.7,314.1 243.7,314.3 244.8,314.4 245.6,313.9 245.7,312.0 246.1,310.8 246.5,309.3 247.3,308.8 248.1,308.4 249.2,308.4 250.2,308.5 251.4,308.8 253.2,310.3 254.1,309.8 254.9,309.4 255.3,308.1 255.7,306.6 256.5,305.9 257.4,305.7 258.3,305.9 259.3,306.3 260.2,306.1 261.1,306.2 262.0,305.9 263.0,306.5 263.9,306.5 264.8,306.6 265.7,306.2 266.6,306.2 267.4,305.6 268.4,305.5 269.2,304.9 270.3,304.9 271.4,304.9 272.2,304.5 272.8,303.4 273.5,302.7 274.4,302.3 275.6,302.5 276.5,302.2 277.4,301.8 278.3,301.2 279.0,300.4 279.6,299.6 280.2,298.8 280.7,297.8 281.0,296.6 281.6,295.7 282.7,295.5 284.2,296.2 285.2,297.6 286.1,297.5 287.0,297.3 287.9,297.2 288.8,296.4 289.6,295.8 290.5,295.9 291.4,295.5 292.2,294.5 293.1,294.9 294.1,295.1 295.0,295.5 296.0,295.9 296.6,295.0 297.5,295.4 298.4,296.2 299.3,296.3 300.3,296.1 301.3,295.5 302.3,294.3 303.3,293.6 304.3,293.6 305.1,294.7 305.9,296.0 306.8,296.7 307.7,297.2 308.7,296.7 309.6,296.2 310.6,296.2 311.6,295.8 312.0,294.7 312.5,293.5 313.4,293.1 314.7,293.5 316.3,294.8 317.5,294.8 318.3,294.4 319.1,293.8 319.6,292.7 319.7,290.7 320.3,289.8 322.0,291.0" fill="none" stroke="#0000ff" stroke-width="1.3" stroke-linejoin="round"/>
<polyline points="322.0,291.0 322.9,290.7 323.9,290.3 324.9,290.1 325.9,290.7 326.9,291.2 327.9,291.2 329.2,291.7 330.0,291.2 330.6,289.9 331.1,288.3 331.9,287.7 332.9,287.8 334.0,288.6 335.3,289.7 336.4,290.1 337.3,289.8 338.3,289.6 339.1,289.3 340.0,289.0 340.6,287.9 341.3,287.1 342.0,286.3 342.7,285.7 343.8,286.1 345.0,286.7 345.8,286.4 346.6,285.8 347.6,286.0 348.4,285.5 349.2,285.0 350.0,284.6 350.9,284.2 351.7,283.8 352.4,283.1 353.1,282.3 353.9,281.7 354.7,281.3 355.8,281.5 356.9,282.5 357.9,282.4 358.8,282.2 359.6,281.2 360.2,280.0 361.0,279.1 362.0,278.9 363.0,279.0 363.7,278.2 364.8,278.7 365.9,279.2 366.9,279.3 368.0,279.5 368.9,279.1 369.6,278.0 370.4,277.5 371.3,277.5 372.2,277.1 373.2,277.4 374.3,277.6 375.1,277.1 376.1,277.3 377.0,277.2 377.7,276.2 378.4,275.5 379.2,275.0 380.2,275.1 380.9,274.5 381.9,274.5 383.0,274.8 384.0,275.1 385.0,275.0 385.9,274.9 386.7,274.5 387.4,273.7 387.9,272.3 388.6,271.7 389.6,271.8 390.7,271.8 391.6,271.7 392.6,271.6 392.9,270.1 393.4,269.1 393.8,267.9 394.6,267.5 395.9,267.9 397.5,269.2 398.7,269.4 399.5,269.0 400.1,268.2 400.2,266.2 400.6,265.0 401.4,264.5 402.4,264.5 403.3,264.3 404.4,264.3 405.4,264.4 406.6,264.7 407.6,264.7 408.5,264.5 409.4,264.1 409.8,263.3 410.4,262.2 411.0,260.8 411.9,260.7 413.0,260.9 413.8,260.5 414.7,260.3 415.8,260.5 416.5,259.9 417.4,259.4 418.2,258.9 419.4,259.5 420.5,259.9 421.3,259.5 422.0,258.5 422.9,258.3 423.9,257.5 424.8,256.7 424.6,255.5 424.3,254.4 424.1,253.2 423.9,252.1 424.3,250.8 425.3,250.4 426.2,249.8 426.4,248.9 427.3,248.3 428.7,248.1 429.2,247.3 429.5,246.4 428.6,244.8 428.7,243.7 428.7,242.6 429.1,241.8 431.0,241.9 432.1,241.4 432.9,240.8 433.0,239.8 432.2,238.7 431.5,237.7 431.6,236.8 431.7,235.9 432.1,235.0 433.3,234.3 434.3,233.5 434.3,232.6 434.9,231.7 435.1,230.8 435.5,230.0 435.0,229.0 435.1,228.1 434.4,227.1 433.2,226.4 432.7,225.5 432.6,224.6 433.1,223.5 433.6,222.5 434.4,221.4 435.4,220.2 435.2,219.3 433.9,218.5 432.5,217.8 433.1,216.7" fill="none" stroke="#0000ff" stroke-width="1.3" stroke-linejoin="round"/>
<polyline points="359.6,250.0 360.4,249.6 361.3,249.3 362.1,248.8 362.9,248.3 363.7,248.0 364.6,247.7 365.5,247.4 366.3,247.1 367.1,246.6 367.9,246.1 368.7,245.6 369.5,245.2 370.4,244.9 371.3,244.7 372.1,244.3 373.0,244.0 373.8,243.6 374.6,243.2 375.5,242.9 376.4,242.5 377.1,241.9 377.8,241.3 378.5,240.7 379.3,240.3 380.2,239.9 381.0,239.5 381.9,239.3 382.7,238.8 383.5,238.3 384.2,237.7 385.0,237.1 385.7,236.6 386.6,236.2 387.4,235.9 388.3,235.6 389.2,235.3 389.9,234.7 390.8,234.3 391.5,233.8 392.2,233.1 393.0,232.6 393.8,232.1 394.6,231.8 395.5,231.4 396.3,231.0 397.0,230.5 397.8,230.1 398.6,229.5 399.3,229.0 400.0,228.4 400.7,227.8 401.5,227.3 402.3,226.9 403.1,226.5 403.9,226.1 404.7,225.7 405.5,225.2 406.3,224.7 406.7,224.2 407.6,224.8 408.5,225.2 409.5,225.6 410.5,226.0 411.3,226.5 412.1,227.1 412.8,227.9 413.8,228.1 414.8,228.4 415.8,228.6 416.7,228.7 417.6,228.4 418.5,228.2 419.3,227.8 420.1,227.5 421.0,227.2 421.8,226.7 422.6,226.3 423.5,226.0 424.3,225.7 425.2,225.1 425.7,224.3 426.2,223.5 426.9,222.8 427.6,222.1 428.3,221.4 428.9,220.7 429.7,220.1 430.4,219.5 431.2,218.9 431.9,218.2 432.7,217.6 433.1,216.7" fill="none" stroke="#0000ff" stroke-width="1.3" stroke-linejoin="round"/>
<polyline points="322.0,291.0 321.7,292.0 321.8,292.9 323.1,293.7 324.1,294.5 323.9,295.5 323.3,296.5 323.3,297.4 323.3,298.4 322.4,299.4 322.6,300.3 322.3,301.3 322.1,302.2 322.1,303.2 322.1,304.1 322.8,305.0 323.6,305.9 323.3,306.8 323.3,307.8 323.7,308.7 324.6,309.5 325.3,310.4 325.0,311.3 323.8,312.4 322.8,313.4 322.4,314.4 322.5,315.4 323.0,316.2 323.4,317.1 324.2,318.0 324.5,318.9 324.8,319.8 325.8,320.6 326.9,321.5 326.9,322.2 326.8,323.2 326.8,324.2 326.7,325.2 326.2,326.2 325.6,327.3 325.0,328.4 325.4,329.3 325.9,330.2 326.1,331.1 326.4,332.0 326.1,333.0 326.5,333.9 327.1,334.8 327.7,335.6 328.4,336.4 328.8,337.3 328.7,338.8 327.8,339.2 327.0,339.9 326.4,340.6 325.7,341.3 325.4,342.5 324.8,343.2 324.2,344.1 323.4,344.7 323.0,345.1 322.1,345.8 321.4,346.6 320.7,347.4 320.3,348.3 319.8,349.2 318.7,349.8 318.6,351.0 319.0,351.9 319.3,352.8 319.7,353.6 320.6,354.4 320.3,355.4 319.9,356.5 320.4,357.3" fill="none" stroke="#0000ff" stroke-width="1.3" stroke-linejoin="round"/>
<polyline points="328.3,338.4 329.0,339.0 329.7,339.5 330.6,339.9 331.4,340.4 332.1,341.0 332.5,342.0 333.3,342.5 333.4,343.9 334.8,343.5 336.1,343.3 336.8,343.9 337.4,344.6 338.2,345.2 338.8,345.8 339.2,346.9 339.5,348.4 340.5,348.4 341.6,348.4 342.8,348.1 343.6,348.6 344.5,349.0 345.3,349.6 345.8,350.7 346.6,351.3 347.5,351.8 348.6,351.6 349.8,351.5 351.2,350.8 352.1,351.3 352.9,351.7 353.7,352.3 353.8,354.2 354.6,354.8 355.9,354.3 357.0,354.4 357.6,355.3 358.2,356.3 358.4,357.7 358.5,359.1 359.3,359.7 360.9,359.4 362.4,359.0 363.3,359.4 363.9,360.3 364.6,361.1 365.1,362.0 365.6,362.8 366.8,363.1 367.5,363.7 368.4,364.2 369.0,364.8 369.5,365.6 369.6,367.4 368.2,367.6 367.3,368.1 366.6,368.8 365.9,369.5 365.4,370.3 365.4,371.5 365.2,372.5 365.0,373.5 364.8,374.3 364.3,375.2 363.0,375.7 362.4,376.5 362.2,377.4 362.0,378.4 362.2,379.6 362.1,380.6 361.0,381.2 361.0,381.9 361.2,382.8 361.6,383.7 360.7,384.7 359.9,385.8 359.5,386.8 359.9,387.6 361.3,388.3 362.5,389.1 363.0,389.9 362.8,390.3 362.4,391.9 362.1,393.4 362.8,394.0 364.0,394.2 365.1,394.4 366.6,394.4 367.6,394.7 368.3,395.3 368.5,396.4 368.4,397.7 368.7,398.7 368.6,400.0 369.5,400.9 370.3,401.3 371.6,401.0 373.1,400.5 374.2,400.4 375.1,400.9 375.4,402.1 376.1,402.9 376.3,404.4 377.0,405.0 377.6,406.0 378.5,406.7 379.6,406.5 380.6,406.5 381.7,406.4 382.7,406.4 383.6,406.8 383.8,408.6 384.5,409.4 385.1,410.3 386.7,409.0" fill="none" stroke="#0000ff" stroke-width="1.3" stroke-linejoin="round"/>
<polyline points="423.6,257.4 423.8,258.3 424.1,259.2 424.2,260.2 424.7,261.1 424.6,262.1 424.6,263.0 423.9,264.1 423.3,265.2 423.5,266.1 424.5,266.2 424.4,267.3 424.3,268.4 424.3,269.6 423.6,270.3 423.7,271.4 423.1,272.2 421.3,271.9 419.6,271.7 419.0,272.4 418.4,273.1 417.9,274.9 419.0,275.6 420.1,276.3 420.7,277.1 420.3,278.1 419.9,279.1 419.0,280.7 419.2,281.6 419.7,282.4 421.2,282.5 423.3,282.2 424.2,284.5 423.8,285.4 422.0,285.7 420.6,286.1 419.6,286.8 419.8,287.9 420.2,289.0 420.1,290.1 420.0,291.1 419.1,291.6 417.8,291.8 416.7,292.2 416.1,293.0 416.2,294.1 416.2,295.1 416.6,296.4 416.2,297.2 415.8,298.1 415.1,298.7 414.7,299.5 414.6,300.3 414.4,301.5 413.6,302.3 412.6,303.0 412.8,304.2 412.8,305.4 413.7,306.1 414.3,305.8 414.2,307.1 414.3,308.5 414.3,309.9 413.3,310.5 411.5,310.5 410.5,310.9 410.3,311.8 410.9,313.3 409.8,315.1 408.8,314.8 407.9,314.0 407.0,313.1 406.2,311.8 403.6,311.9 403.1,312.7 403.1,314.0 403.5,315.6 404.0,317.2 403.3,318.0 402.6,318.8 401.6,319.4 400.5,319.8 399.2,320.0 397.9,320.2 397.6,321.4 397.5,322.6 396.8,323.6 395.9,324.2 395.0,325.0 395.6,325.8 396.7,325.7 397.6,326.0 398.5,326.4 399.2,327.0 399.7,328.0 400.2,328.8 401.2,328.9 402.8,328.8 404.1,329.0 404.8,329.7 405.0,331.0 404.8,332.8 404.8,334.3 405.3,335.2 406.8,335.0 408.0,335.0 409.1,335.3 409.3,336.5 409.5,337.8 410.4,338.3 411.4,338.6 412.1,338.8 412.9,339.9 414.1,340.9 414.2,341.9 414.0,343.0 413.2,343.5 413.3,344.7 413.7,345.7 413.9,346.8 414.4,347.7 415.2,348.3 416.0,348.9 416.9,349.3 418.4,349.2 419.5,349.4 420.7,349.6 421.2,350.4 421.7,351.2 422.0,352.4 421.8,354.1 422.2,355.5 423.1,355.8 424.5,355.1 425.9,354.4 426.8,354.7 427.3,355.6 428.2,356.0 428.8,356.9 429.4,357.8 429.9,358.8 430.4,359.9 431.5,359.8 432.6,359.8 433.7,359.6 434.6,360.1 435.5,359.8 436.4,358.9 437.3,358.6 438.3,359.2 439.3,359.6 440.2,359.7 441.2,359.7 442.1,359.5 443.0,359.0 443.8,358.4 444.8,358.9 445.8,359.0 446.7,359.0 447.7,359.5 448.7,360.0 449.5,359.1 450.3,357.8 450.8,356.3 451.6,356.0 452.5,355.7 453.4,355.5 454.3,355.4 455.5,356.0 456.5,356.2 457.5,356.4 458.6,357.1 459.5,356.7 460.4,356.5 461.2,356.0 461.6,354.2 462.3,353.2 463.1,352.9 464.3,353.8 465.4,354.2 466.8,355.1 467.8,355.0 468.6,354.5 469.2,353.4 469.8,352.5 470.7,352.1 471.5,351.7 472.3,351.0 473.2,350.7 474.1,350.4 475.0,350.2 476.1,350.4 477.1,350.3 478.0,350.0 478.8,349.5 479.5,348.8 480.4,348.4 481.4,348.4 482.0,347.3" fill="none" stroke="#0000ff" stroke-width="1.3" stroke-linejoin="round"/>
<polyline points="434.6,361.5 433.9,362.2 433.1,362.7 432.1,363.0 431.1,363.0 430.4,363.7 429.6,364.4 428.9,365.1 427.9,365.1 426.8,365.2 425.8,365.4 425.1,366.0 424.7,367.0 424.1,367.8 423.1,367.9 422.5,368.7 422.4,370.1 421.4,370.2 419.9,369.7 418.4,369.2 417.6,369.7 417.1,370.5 416.8,371.6 416.8,373.1 416.3,374.0 415.5,374.5 415.6,374.3 415.4,375.2 414.9,376.1 414.4,376.9 413.0,377.7 411.9,378.5 412.7,379.5 413.3,380.5 413.2,381.4 412.5,382.3 411.8,383.1 412.4,384.1 412.6,385.1 412.3,386.0 411.4,386.6 410.6,387.3 410.7,388.3 410.0,389.1 410.0,390.1 409.5,391.0 409.3,391.9 409.5,392.9 410.6,393.8 411.2,394.7 411.2,395.7 411.1,396.6 410.6,397.6 409.2,398.5 408.2,399.4 408.2,400.4 409.2,400.3 408.8,401.5 408.1,402.3 407.1,402.5 406.1,402.6 405.3,403.0 404.7,404.0 403.7,404.1 402.9,404.6 402.1,405.1" fill="none" stroke="#0000ff" stroke-width="1.3" stroke-linejoin="round"/>
<polyline points="325.1,416.7 325.8,417.5 326.4,418.3 327.1,419.1 328.5,418.4 329.8,418.1 331.1,417.6 332.0,418.0 332.6,418.9 332.8,420.6 333.3,421.7 334.2,422.0 335.5,421.7 337.2,421.0 337.6,421.9 338.6,422.2 339.1,423.0 339.1,424.5 339.3,425.7 340.3,425.9 341.1,426.3 341.4,427.4 341.6,428.8 342.7,428.8 343.9,428.7 344.8,429.0 345.0,430.9 345.7,431.8 346.6,432.1 347.4,432.6 348.8,431.6 350.2,430.5 351.6,429.3 352.5,429.6 353.4,430.0 354.1,430.7 354.4,432.4 354.6,434.4 355.0,435.8 355.9,436.1 357.2,435.3 358.5,433.6 359.4,432.6 360.3,432.9 361.2,433.5 362.2,433.7 363.1,433.6 364.0,434.3 364.9,435.6 365.8,436.9 366.7,436.4 367.6,435.0 368.6,433.2 369.5,433.3 370.4,434.2 371.5,434.4 371.8,435.4 372.1,436.3 372.6,437.2 373.1,437.9 374.3,438.0 375.8,437.7 376.6,438.2 376.2,439.9 376.6,440.8 377.8,440.9 378.5,441.4 379.8,441.5 381.3,441.3 382.0,441.9 382.0,443.1 381.3,444.8 379.3,444.9 378.7,445.6 378.7,446.7 379.4,448.1 380.4,449.6 378.4,448.4 379.1,447.6 380.2,448.1 381.6,449.2 383.0,450.3 384.1,450.7 384.7,449.8 385.7,449.7 386.6,449.7 387.4,449.1 387.9,447.9 388.2,446.2 390.1,445.1 390.7,445.8 390.5,447.5 390.8,448.6 391.7,448.9 393.1,448.6 394.3,448.6 395.2,448.9 395.6,449.9 395.7,451.1 396.6,451.6 397.2,451.5 398.0,452.0 399.0,452.3 399.9,452.3 401.1,451.7 401.9,452.6 402.5,453.9 403.3,454.9 404.0,455.8 404.8,457.0 405.7,457.2 406.7,457.0 407.9,456.2 409.1,455.5 410.0,455.7 411.2,454.8 412.3,454.6 413.4,454.2 414.0,455.4 414.7,456.8 415.3,458.3 416.1,459.0 416.7,459.9 417.5,460.3 418.7,459.7 420.2,457.8 421.4,457.1 422.2,457.6 422.9,458.4 423.5,459.3 424.3,459.8 424.8,461.0 425.3,462.6 426.2,462.7 427.4,461.8 428.6,461.3 429.9,460.0 431.0,459.7 431.7,460.4 432.2,461.6 433.4,463.7 434.5,463.8 435.5,463.5 436.1,462.7 436.3,461.4 436.8,460.4 437.4,459.7 438.2,459.2 438.8,458.5 439.2,457.4 440.5,457.5 441.6,458.7 442.7,459.3 443.5,458.6 444.4,458.1 445.0,456.3 445.6,454.9 446.5,454.3 447.4,454.2 448.2,453.7 449.5,455.1 450.5,455.5 451.7,456.6 452.9,457.7 451.1,456.2 451.6,457.0 453.3,457.3 454.6,457.7" fill="none" stroke="#0000ff" stroke-width="1.3" stroke-linejoin="round"/>
</g>
<polygon points="10.8,154.4 11.7,153.9 12.7,153.5 13.7,153.2 14.6,152.8 15.5,152.1 16.2,151.3 17.1,150.8 17.9,150.0 18.8,149.4 19.7,148.9 20.7,148.6 21.8,148.4 22.8,148.1 23.9,147.9 24.8,147.5 25.6,146.7 26.4,146.1 27.3,145.6 28.3,145.3 29.2,144.9 29.9,144.1 30.7,143.5 31.4,142.7 32.1,142.0 32.7,141.1 33.4,140.4 34.4,139.9 35.4,139.7 36.5,139.5 37.5,139.3 38.4,138.8 39.0,137.8 39.7,136.9 40.3,136.0 41.1,135.5 42.0,134.9 43.0,134.6 44.1,134.5 45.1,134.2 46.1,133.9 46.9,133.2 47.8,132.8 48.7,132.3 49.4,131.6 50.2,130.8 51.1,130.4 52.0,129.9 52.9,129.4 53.7,128.9 54.5,128.2 55.4,127.7 56.2,127.1 57.1,126.7 58.0,126.1 59.0,125.8 59.9,125.4 61.0,125.2 61.9,124.8 62.7,124.1 63.4,123.3 64.2,122.6 64.9,121.9 65.6,121.1 66.3,120.4 67.1,119.7 68.1,119.3 69.2,119.3 70.2,118.9 71.0,118.3 71.7,117.5 72.4,116.7 73.2,116.2 74.2,115.8 75.2,115.5 76.3,115.2 77.2,114.8 78.1,114.3 78.7,113.4 79.2,112.4 80.0,111.7 80.8,111.0 81.8,110.8 83.0,110.8 84.1,110.6 84.9,110.2 85.8,109.6 86.7,109.0 87.6,108.5 88.5,107.9 89.2,107.0 90.1,106.6 91.0,106.1 92.1,105.8 93.1,105.5 94.1,105.3 95.2,105.2 96.1,104.6 97.0,103.8 96.1,102.8 95.3,101.8 94.9,100.1 95.5,99.2 96.0,98.3 96.8,97.2 98.3,97.4 99.5,97.4 100.7,97.8 101.8,98.2 103.2,98.3 103.6,99.3 103.6,100.3 103.6,101.4 103.5,102.3 104.5,101.6 105.6,101.2 106.8,101.0 108.1,100.9 109.3,101.1 110.4,100.7 111.4,100.1 112.4,99.2 113.4,98.6 114.4,98.2 115.5,98.1 116.6,98.0 117.6,97.7 118.6,97.2 119.6,96.8 120.8,96.9 121.9,96.5 123.0,97.0 123.8,97.7 124.7,98.9 124.8,100.1 124.5,101.4 124.3,102.6 124.1,103.5 123.5,104.4 123.4,105.7 123.0,106.8 122.3,107.6 121.3,108.4 121.5,109.4 122.1,110.2 123.1,110.7 123.0,112.1 122.9,113.3 123.3,114.4 123.8,115.4 124.2,116.5 124.5,117.6 125.3,118.2 126.2,118.8 127.1,119.2 127.8,119.8 128.6,120.9 129.5,121.8 130.3,122.8 131.3,122.5 132.3,122.5 133.4,122.9 134.4,123.2 135.4,123.0 136.4,122.6 137.5,122.3 138.5,122.0 139.5,122.0 140.5,122.2 141.6,122.4 142.6,122.8 143.9,122.7 143.7,121.7 143.7,120.7 143.6,119.7 143.3,118.7 142.6,117.8 142.3,116.8 142.2,115.8 142.1,114.8 141.8,113.8 142.9,113.8 144.0,114.0 145.0,113.8 146.0,113.3 147.0,112.7 147.8,112.0 148.8,111.4 149.9,111.1 151.0,111.0 151.8,111.0 152.7,111.3 153.9,111.2 154.9,111.5 155.7,112.1 156.5,112.8 157.3,113.4 158.1,114.2 158.9,114.8 159.9,115.1 160.9,115.5 162.0,115.1 163.2,114.9 164.2,115.1 165.1,115.6 166.0,116.1 166.9,116.7 167.8,117.2 168.8,117.6 169.7,118.0 170.7,118.4 171.7,118.5 172.8,118.3 173.9,118.2 175.0,118.5 176.0,118.9 177.0,119.3 177.9,119.9 178.8,120.5 179.9,121.5 179.4,122.5 178.8,123.5 178.5,124.5 178.6,125.6 178.9,126.6 179.1,127.6 179.2,128.7 179.1,129.3 180.2,129.2 181.2,129.5 182.2,129.7 183.2,130.3 184.2,130.9 185.2,131.4 186.2,131.6 187.3,131.8 188.4,131.7 189.5,131.5 190.2,131.2 191.1,130.7 192.0,130.2 192.9,129.8 194.0,129.7 195.2,129.8 196.2,129.6 197.0,128.9 197.8,128.2 198.8,127.7 199.7,127.3 200.6,126.6 201.6,126.4 202.8,126.4 203.9,126.2 204.7,125.6 205.6,124.9 206.4,124.0 207.3,123.4 208.4,123.0 209.5,123.0 210.6,123.4 211.8,123.6 212.9,123.8 213.9,123.7 215.3,123.4 216.2,122.8 216.9,122.0 217.7,121.2 218.4,120.4 219.2,119.7 220.0,119.0 220.9,118.4 221.8,117.8 222.6,117.0 223.5,116.6 224.6,116.2 225.6,115.8 226.7,115.4 227.1,114.4 227.8,113.6 228.2,112.7 228.7,111.7 229.4,111.1 230.4,110.6 231.4,110.2 232.2,109.5 232.9,108.8 233.7,108.2 234.2,107.3 234.6,106.3 235.0,105.3 235.6,104.5 236.4,103.9 237.3,103.4 238.2,102.8 238.8,102.0 239.3,101.0 238.4,100.2 237.7,99.3 237.2,98.2 236.7,97.1 237.8,97.1 238.8,96.8 239.8,96.2 240.8,95.7 241.9,95.9 243.0,96.1 244.0,96.3 245.0,96.4 246.0,95.9 247.0,95.4 248.0,95.2 249.0,95.4 249.9,95.7 250.3,96.6 251.0,97.4 251.8,98.0 252.8,98.5 253.6,99.1 253.7,99.6 254.8,99.7 255.9,100.0 256.9,100.7 258.0,100.7 259.0,100.6 260.0,100.5 261.1,100.2 262.0,99.5 263.0,98.9 263.7,99.3 264.3,97.9 264.7,96.9 264.0,96.1 263.5,95.1 263.0,94.1 262.3,93.3 261.6,92.6 261.1,91.6 260.9,90.8 260.8,89.7 260.6,88.7 260.2,87.7 259.9,86.7 259.6,85.7 259.5,84.6 259.1,83.6 258.7,82.6 258.4,81.6 258.7,80.1 259.3,78.5 260.2,78.0 261.2,77.8 262.2,77.5 263.1,77.1 263.9,76.5 264.8,75.8 265.7,75.4 266.7,75.1 267.7,75.0 268.8,74.7 269.8,74.6 270.8,74.4 271.9,74.5 272.9,74.6 274.0,74.7 275.0,74.5 276.0,74.1 277.0,73.8 278.1,73.8 278.8,73.7 279.7,75.0 279.6,76.0 279.5,77.1 279.4,78.1 279.4,79.2 279.4,80.2 279.0,81.2 278.9,82.3 278.6,83.3 279.2,84.8 280.4,84.6 281.5,84.3 282.7,84.0 283.7,83.7 284.8,83.9 285.8,84.0 286.9,84.2 287.9,84.5 288.9,84.6 290.0,84.7 291.0,85.1 292.0,85.5 293.2,85.4 293.8,84.4 294.5,83.6 295.2,82.7 296.1,82.0 297.0,81.4 297.9,80.7 298.6,79.9 299.2,79.2 299.6,78.2 299.8,77.1 300.3,76.2 300.9,75.4 301.8,74.8 302.7,74.3 303.6,73.6 303.9,72.4 304.4,71.3 305.1,70.5 306.3,70.0 307.2,69.4 308.4,69.4 309.6,69.2 310.8,68.8 312.1,68.1 313.1,68.5 313.8,69.3 314.3,70.2 314.9,71.1 315.6,71.8 316.4,72.5 317.3,73.3 318.3,73.7 319.4,74.2 320.3,75.0 320.1,76.1 319.9,77.2 319.7,78.4 319.6,79.5 319.7,80.7 319.3,81.9 318.8,83.2 318.4,84.1 317.3,83.6 316.2,83.6 315.0,84.2 313.9,84.4 313.1,84.7 311.9,84.6 310.9,84.8 309.9,85.3 310.3,86.8 310.9,88.2 312.2,88.3 313.4,88.9 314.8,89.7 315.9,89.7 316.9,89.4 317.9,88.9 319.0,88.5 320.0,88.2 321.1,88.3 322.3,88.2 323.1,87.6 324.4,86.8 325.3,87.4 325.9,88.5 326.7,89.3 327.7,90.1 328.5,91.2 329.9,92.2 330.8,91.6 331.8,91.0 332.8,90.3 333.5,89.4 333.8,88.1 334.5,87.2 335.3,86.4 336.5,86.0 337.7,85.6 338.5,84.7 339.2,83.8 339.7,82.8 340.4,81.9 341.1,81.0 341.6,80.0 341.9,78.8 342.0,77.8 342.3,76.8 342.6,75.9 342.9,74.9 343.4,74.0 343.8,73.2 345.0,73.6 346.2,74.0 347.3,74.3 348.5,74.7 349.4,75.3 350.1,76.2 350.6,77.3 351.3,78.2 351.8,78.9 351.9,80.2 352.2,81.3 352.9,82.3 353.8,83.2 354.5,84.6 354.4,85.6 354.1,86.5 353.5,87.4 352.7,88.1 351.8,88.9 351.3,89.8 351.1,90.8 351.3,91.9 352.0,92.7 352.6,93.5 353.1,94.5 353.8,95.2 354.6,95.9 355.0,96.9 355.6,97.8 356.0,98.8 356.4,99.8 356.9,100.7 357.6,101.4 358.2,102.5 358.7,103.6 358.8,104.9 359.4,106.5 360.5,106.7 361.6,107.2 362.6,107.7 363.6,108.1 364.7,108.3 365.8,108.4 367.0,108.4 368.2,108.7 369.3,109.3 370.3,110.2 370.8,110.0 370.9,111.1 371.2,112.1 371.3,113.2 371.6,114.3 372.0,115.4 372.1,116.4 372.4,117.5 372.5,118.6 372.6,119.9 373.7,119.9 374.8,120.2 375.8,120.0 376.9,119.9 377.9,119.5 378.9,119.2 380.0,118.7 381.0,118.4 382.1,118.3 383.1,118.6 384.2,118.9 385.3,118.8 386.3,118.6 387.4,118.7 388.5,118.7 389.6,119.0 390.6,119.3 391.7,119.4 392.8,119.5 393.9,119.7 395.0,119.9 396.1,120.1 397.5,120.0 398.1,119.1 398.6,118.1 399.1,117.1 400.1,116.6 401.0,116.0 401.7,115.2 402.5,114.5 403.5,114.1 404.4,113.6 405.1,113.1 406.1,113.2 407.1,113.2 408.1,113.2 408.8,113.1 409.5,113.8 410.5,114.3 411.6,114.7 412.3,115.5 412.9,116.4 413.5,117.2 413.8,118.4 414.4,118.8 414.8,119.8 415.2,120.9 415.7,122.0 416.3,123.1 416.4,124.2 416.3,125.3 416.1,126.5 415.9,127.8 416.6,128.5 417.6,128.9 418.4,129.4 419.4,129.8 420.2,130.3 421.0,131.0 421.7,131.7 422.6,132.1 423.4,132.8 424.4,133.2 425.3,133.5 426.5,133.5 427.5,133.8 428.4,134.3 428.8,135.0 429.9,135.5 430.9,135.7 432.0,135.8 433.0,135.6 434.1,135.4 435.2,135.5 436.2,135.3 437.3,135.4 438.4,135.4 439.4,135.3 440.5,135.1 441.5,135.0 442.7,135.4 442.9,136.5 443.3,137.5 443.9,138.3 444.7,139.0 445.7,139.5 446.2,140.4 446.7,141.7 447.7,141.6 448.7,141.1 449.6,140.7 450.6,140.4 451.6,139.9 452.4,139.6 453.3,140.4 453.8,141.4 454.4,142.3 455.2,143.3 455.9,144.8 455.3,145.6 454.6,146.3 453.6,146.8 452.6,147.2 451.6,147.6 450.7,148.1 450.0,149.7 450.7,150.4 451.2,151.3 451.9,152.0 452.9,152.5 453.7,153.6 453.1,154.5 452.2,155.1 451.4,155.5 450.4,155.9 449.3,156.1 448.3,156.4 447.2,157.3 447.3,158.3 447.8,159.3 448.1,160.2 448.5,161.2 447.9,162.1 447.3,163.2 446.4,163.8 445.4,164.3 444.5,165.1 444.3,166.1 443.8,167.0 443.6,168.0 443.5,169.0 443.7,170.1 443.4,171.1 443.0,172.1 442.5,173.1 442.7,174.2 443.3,175.2 444.4,175.8 445.0,177.2 444.2,178.0 443.5,178.7 442.7,179.5 442.1,180.3 441.4,181.1 440.9,182.0 440.5,183.0 439.8,183.8 439.2,185.4 440.3,185.9 441.1,186.6 442.0,187.3 442.8,188.0 443.6,188.8 442.8,189.5 442.0,190.1 441.0,190.7 440.3,191.4 439.5,192.1 438.6,192.7 438.2,193.7 437.7,194.7 437.1,195.5 436.7,196.5 436.2,197.5 435.7,198.4 435.4,199.5 434.9,200.6 433.9,201.1 432.8,201.5 431.9,202.1 431.2,202.9 430.5,203.6 429.8,204.5 429.0,205.2 428.5,206.1 427.9,207.0 427.6,207.9 427.7,209.2 428.7,210.0 429.6,210.8 430.2,211.8 430.6,212.8 431.3,213.9 432.1,214.7 433.0,215.5 433.8,216.0 434.6,216.6 435.1,217.8 435.2,218.9 435.3,220.1 435.0,221.2 434.7,222.3 434.5,223.4 434.4,224.5 434.1,225.5 435.2,225.6 436.3,225.5 437.3,224.8 438.3,224.3 439.3,223.8 440.4,223.6 441.6,223.4 442.6,223.5 443.6,223.7 444.6,224.0 445.6,224.6 446.6,224.9 447.6,225.0 448.6,225.0 449.6,224.7 450.6,224.2 451.6,223.6 452.8,223.4 453.7,223.9 454.6,224.7 455.5,225.1 456.5,225.3 457.5,225.2 458.6,225.1 459.6,225.2 460.5,225.3 461.5,225.7 462.5,226.0 463.5,226.1 464.6,226.0 465.6,225.7 466.6,225.5 467.6,225.6 468.6,225.6 469.6,225.8 470.6,226.0 471.7,226.1 472.7,226.1 473.7,226.1 474.7,225.9 475.8,225.9 476.8,226.1 477.7,226.6 478.5,227.2 479.3,227.8 480.1,228.4 480.8,229.3 481.7,229.8 482.7,230.1 483.6,230.4 484.4,231.1 485.3,231.5 486.4,231.6 487.4,231.7 488.4,231.9 489.3,232.4 490.1,233.0 490.9,233.7 491.4,234.1 492.0,235.0 493.1,235.4 494.1,236.0 495.1,236.6 495.4,237.6 495.7,238.7 496.1,239.8 496.6,240.7 497.2,241.5 497.7,242.5 498.4,243.2 499.0,244.0 499.8,244.7 500.2,245.7 500.9,246.4 501.6,247.2 501.8,248.3 502.1,249.2 502.4,250.2 503.0,251.2 504.1,251.3 505.2,251.3 506.1,251.7 507.1,252.2 508.1,252.5 509.0,253.1 510.0,253.5 511.0,253.8 512.0,254.0 512.9,254.5 513.8,254.0 513.7,255.1 513.9,256.3 513.5,257.2 513.0,258.1 512.5,259.0 511.8,259.8 511.1,260.6 510.0,260.9 509.1,261.3 508.1,261.8 507.3,262.4 506.8,263.6 506.1,264.4 505.3,265.0 504.4,265.6 503.5,266.0 502.5,266.5 501.3,266.9 501.4,268.0 501.9,269.0 502.8,269.8 503.5,270.7 504.1,271.6 504.6,272.6 505.0,273.6 505.1,274.7 505.2,275.9 505.3,277.0 505.9,278.4 506.9,278.6 508.0,278.8 509.1,278.9 510.1,279.1 511.0,279.6 511.9,280.2 512.6,280.9 513.6,281.3 514.5,281.9 515.5,282.2 516.5,282.3 517.5,282.1 518.6,281.6 519.7,281.5 520.7,281.6 521.6,282.5 522.5,283.2 523.0,283.0 523.7,283.9 524.7,284.6 525.5,285.4 526.3,286.3 526.8,287.3 526.7,288.4 526.6,289.6 526.6,290.7 526.6,291.8 527.0,292.9 527.4,294.1 527.4,295.1 527.1,296.2 526.9,297.3 527.1,298.4 527.4,299.4 527.6,300.4 528.2,301.4 528.7,302.4 528.9,303.4 528.9,304.2 529.4,305.1 529.7,306.2 530.0,307.2 530.0,308.5 530.5,309.3 531.2,310.2 532.0,310.9 532.6,311.7 533.5,312.3 534.4,313.0 534.7,314.2 534.2,315.2 533.6,316.1 533.0,317.1 532.5,318.1 531.7,319.3 530.6,319.4 529.3,319.0 528.2,319.3 527.3,319.7 526.3,320.1 525.4,320.7 524.5,321.3 523.6,322.0 522.9,322.8 522.1,323.5 521.4,324.2 520.8,325.2 520.0,325.9 519.3,326.6 518.4,327.2 517.5,327.7 516.5,328.3 515.6,328.8 514.7,329.3 513.8,329.9 513.3,330.9 512.6,331.8 511.8,332.6 510.8,333.0 509.8,333.4 508.8,333.9 507.7,334.3 507.0,335.2 506.2,336.1 505.6,336.8 504.8,337.5 503.8,338.2 502.9,339.0 502.7,340.5 502.3,341.8 503.0,342.7 503.6,343.6 504.1,344.7 504.4,345.7 504.8,346.7 505.1,347.8 505.6,348.8 505.9,349.8 504.7,349.9 503.4,349.7 502.2,349.8 500.7,350.2 499.8,351.3 498.8,352.6 498.8,353.8 498.8,354.9 498.0,356.1 497.4,356.9 497.8,357.9 498.1,358.9 497.7,359.2 498.9,359.7 499.4,360.2 499.9,359.0 500.6,358.2 500.2,356.8 499.4,355.7 498.3,355.9 497.3,355.5 496.4,355.1 495.3,354.7 494.5,353.9 493.6,353.3 492.8,352.6 491.4,352.6 489.6,352.8 489.1,353.8 488.6,354.9 488.1,355.8 487.0,355.5 485.9,355.3 484.5,355.2 483.5,354.5 482.7,353.1 483.0,351.9 483.1,350.6 483.4,349.3 481.8,349.3 480.4,349.8 479.2,350.4 478.0,351.0 476.9,351.8 476.1,352.5 475.2,352.9 474.2,353.1 474.4,354.5 474.9,355.9 474.4,357.0 474.3,358.3 474.3,359.5 473.7,360.9 472.6,361.2 471.4,361.3 470.3,361.6 469.0,361.9 468.0,362.6 467.0,363.3 466.2,364.2 465.5,365.3 465.5,366.4 465.2,367.3 464.3,368.1 463.8,368.9 463.3,369.9 462.8,370.8 462.6,371.8 462.7,372.9 462.8,373.9 462.3,374.8 461.4,375.6 460.7,376.6 460.6,377.7 460.9,378.9 461.2,380.0 461.3,381.2 461.3,382.3 460.8,383.4 460.4,384.5 459.7,385.3 459.0,386.1 458.2,386.9 457.4,387.6 456.7,388.4 456.3,389.5 456.1,390.6 456.1,391.9 455.6,392.9 454.8,393.8 454.1,394.8 453.8,395.8 453.0,396.6 452.2,397.3 451.4,398.0 450.4,398.4 449.3,398.8 448.6,400.0 449.6,400.0 449.8,401.1 449.7,402.1 449.6,403.2 449.7,404.3 449.4,405.3 449.0,406.3 448.6,407.3 448.2,408.1 447.8,409.1 447.5,410.2 447.3,411.4 446.7,412.3 445.9,412.0 446.6,412.9 447.3,413.7 448.2,414.1 449.0,414.8 449.9,415.4 450.7,415.7 449.7,416.1 448.8,416.6 447.9,417.3 447.3,418.3 446.7,419.0 446.6,420.1 446.3,421.1 446.0,422.1 445.7,423.2 445.3,424.2 445.4,425.3 445.5,426.3 445.7,427.4 445.9,428.4 446.4,429.4 446.5,430.5 446.4,431.6 446.5,432.8 447.3,433.5 448.3,433.7 449.3,433.9 450.5,433.9 451.4,434.3 452.3,434.8 453.6,435.5 454.1,436.4 454.5,437.5 454.6,438.7 454.7,439.9 455.1,441.0 455.7,441.9 456.5,442.7 457.4,443.5 458.3,444.1 459.2,444.7 460.1,445.3 460.9,446.1 461.7,446.8 462.2,447.8 462.9,448.6 463.5,449.6 463.5,450.7 463.7,451.8 463.9,452.9 464.4,453.9 464.8,454.9 465.2,455.9 465.5,457.0 466.0,458.0 466.4,458.9 466.8,460.0 467.6,460.7 468.2,461.2 468.2,462.2 468.5,463.3 468.9,464.4 469.4,465.4 469.5,466.4 469.2,468.0 468.3,468.6 467.5,469.3 466.7,470.1 465.7,470.6 464.8,471.2 464.0,471.8 463.2,472.8 463.2,473.9 463.2,474.9 463.3,476.0 463.5,477.0 463.6,478.1 463.8,479.1 463.7,480.6 462.8,481.1 462.1,481.8 461.2,482.4 460.3,482.9 459.3,483.3 458.7,484.2 458.2,485.2 457.1,486.1 456.0,485.9 455.0,485.7 453.9,485.4 452.9,485.4 451.8,485.2 450.7,485.5 449.7,485.8 448.8,485.8 447.9,486.4 446.9,486.5 445.9,486.9 444.9,487.2 444.1,487.7 443.6,488.2 442.5,488.2 441.4,488.3 440.4,487.9 439.6,487.4 438.8,486.6 437.9,486.0 437.0,485.5 436.1,485.1 434.6,485.1 434.0,486.0 433.5,487.1 432.8,487.9 432.0,488.6 431.2,489.3 429.9,489.4 428.8,489.6 427.7,489.9 426.9,490.6 426.4,491.4 425.4,491.8 424.4,492.2 423.3,492.1 422.2,492.0 421.1,492.1 420.1,492.3 418.9,492.6 418.1,493.1 417.3,493.9 416.6,494.9 415.7,495.5 414.7,495.8 413.5,495.8 412.5,496.1 411.6,496.7 410.7,497.0 409.7,496.4 408.6,495.9 407.5,495.5 406.6,495.0 406.8,494.0 407.0,493.0 407.2,491.9 407.0,490.9 407.0,489.8 407.0,488.7 406.4,487.8 405.8,486.9 405.1,486.0 404.9,485.0 404.6,484.0 404.8,482.8 404.7,481.6 404.5,480.5 404.0,479.5 403.2,478.3 402.1,478.2 400.8,478.2 399.8,477.9 399.0,477.3 398.4,476.3 397.9,475.3 397.0,474.5 396.1,474.0 395.1,473.8 394.1,473.9 393.0,473.9 392.0,474.1 390.9,474.3 390.0,474.0 389.0,473.5 388.1,472.9 387.5,473.1 387.8,472.1 388.1,471.1 388.5,470.2 388.7,469.2 388.7,468.1 389.0,467.1 388.4,466.2 387.7,465.3 387.1,464.4 386.7,463.3 386.0,462.5 385.1,461.8 384.3,461.0 383.8,460.0 383.1,459.1 382.1,458.9 381.2,458.4 380.2,458.0 379.2,457.9 378.1,457.8 377.2,457.6 376.1,457.4 375.0,457.0 373.9,456.7 372.8,456.7 371.7,456.6 370.6,456.8 369.4,457.0 368.3,457.1 367.0,456.6 366.4,455.7 365.9,454.6 365.2,453.9 364.4,453.3 363.4,452.9 362.4,452.6 361.2,452.4 360.5,451.5 360.0,450.6 359.9,449.5 359.8,448.4 359.7,447.2 359.5,446.2 359.2,445.2 358.4,444.3 358.1,443.3 357.5,442.4 356.6,441.9 355.6,441.3 354.8,440.7 353.8,440.2 352.8,440.0 351.6,440.2 350.4,440.4 349.1,440.0 348.2,439.2 347.3,438.3 346.6,437.3 345.6,436.5 344.7,435.9 343.8,435.4 342.7,435.3 341.7,435.1 340.6,435.0 339.8,435.0 338.9,435.5 337.8,435.4 336.7,435.0 335.6,434.8 334.6,435.0 333.7,435.6 332.8,436.4 331.8,436.8 330.6,436.8 329.6,436.5 328.5,436.0 327.5,435.2 326.4,435.1 325.3,435.2 324.1,435.6 322.4,435.6 322.1,434.5 322.3,433.3 322.7,432.2 322.8,431.1 322.8,430.0 322.7,428.9 322.3,427.8 321.5,426.8 321.3,425.4 321.6,424.4 321.9,423.4 322.5,422.5 322.9,421.5 323.2,420.6 323.6,419.8 322.7,418.0 322.7,417.0 322.7,416.0 323.2,415.0 323.7,414.1 324.0,413.0 323.9,412.0 323.8,411.0 323.4,410.1 322.9,409.1 322.5,408.2 322.0,407.3 321.9,406.3 321.7,405.2 321.1,404.3 320.5,403.4 319.9,402.5 319.1,401.7 318.3,400.9 317.6,400.1 316.8,399.4 316.1,398.5 315.7,397.5 315.3,396.7 315.5,395.7 315.5,394.6 315.6,393.5 315.8,392.5 316.4,391.6 317.0,390.7 317.5,389.7 318.0,388.8 318.1,387.7 317.8,386.6 317.6,385.5 317.9,384.5 318.3,383.4 318.9,382.4 319.4,381.3 319.6,380.2 319.5,379.1 319.2,378.0 319.2,376.9 319.2,375.8 319.4,374.7 320.1,373.9 320.8,373.1 321.4,372.3 322.0,371.4 323.0,371.0 324.1,370.4 324.4,369.4 324.5,368.4 324.6,367.4 324.8,366.4 325.1,365.4 325.2,364.4 325.7,363.5 326.2,362.6 326.3,361.6 326.0,360.4 324.9,360.2 323.8,359.9 322.7,359.5 321.5,359.2 320.5,358.8 319.3,358.5 318.2,358.0 317.4,357.5 316.4,358.1 315.5,358.7 314.4,359.1 313.2,359.4 312.2,360.0 311.3,360.6 310.4,361.3 309.7,362.3 309.0,363.1 308.4,364.1 307.6,364.8 306.7,365.5 305.7,366.0 304.7,366.4 303.4,366.4 302.6,367.2 302.1,368.2 302.3,369.3 301.9,370.3 301.3,371.2 300.2,371.9 299.5,372.8 299.1,373.7 299.0,374.8 299.1,376.0 299.0,376.9 299.1,377.9 298.8,378.9 298.7,380.0 298.5,381.0 298.7,382.0 299.1,383.0 299.5,384.0 299.8,385.0 300.0,386.0 299.8,387.0 299.4,388.1 298.9,389.1 299.1,390.1 299.6,390.8 298.7,391.3 297.7,391.8 296.6,391.4 295.5,391.2 294.4,391.4 293.5,391.9 292.5,392.5 291.5,392.9 290.5,392.9 289.5,393.2 288.5,393.7 287.5,394.1 286.6,394.7 285.6,394.9 284.5,394.7 283.3,394.6 282.3,394.7 281.4,395.2 280.6,396.0 280.1,397.2 279.1,397.7 278.2,398.1 277.3,398.6 276.4,399.0 275.3,399.3 274.2,399.2 273.0,399.2 272.0,399.4 271.2,400.1 270.3,400.6 269.6,401.5 268.7,402.1 267.9,402.7 266.9,402.9 265.8,403.2 264.9,402.7 264.0,402.2 263.0,401.8 262.1,401.3 261.1,401.0 260.1,400.9 259.1,400.8 257.9,401.0 256.9,401.0 255.9,400.7 255.0,400.3 254.1,399.7 253.2,399.1 252.3,398.5 251.5,397.9 250.6,397.4 249.4,397.3 248.3,397.3 247.3,397.4 246.3,397.6 245.3,398.0 244.3,398.6 243.2,398.5 242.2,398.4 241.1,398.2 240.1,397.9 239.0,397.8 238.0,398.2 237.0,398.3 236.0,398.4 234.9,398.8 233.9,398.9 232.9,398.6 231.8,398.4 231.1,398.3 230.1,397.8 229.0,397.4 227.9,397.0 227.0,396.4 226.1,395.6 225.1,395.0 224.2,394.4 224.6,393.3 224.9,392.2 225.0,391.2 225.0,390.0 224.9,388.9 225.3,387.8 225.5,386.7 225.7,385.8 225.8,384.5 225.7,383.2 226.0,382.1 226.5,381.1 227.2,379.7 228.3,379.4 229.3,379.1 230.5,379.0 231.6,379.0 232.6,378.5 233.5,378.1 234.7,377.0 234.3,375.8 234.4,374.7 234.5,373.6 234.8,372.5 235.0,371.4 235.1,370.3 235.1,369.2 235.0,368.2 234.6,367.2 234.4,366.0 233.8,365.1 233.1,364.3 232.0,363.4 230.9,363.3 229.6,363.6 228.5,363.6 227.4,363.3 226.3,362.7 225.4,361.8 224.3,361.4 223.6,361.8 223.5,360.6 223.2,359.4 223.5,358.4 224.2,357.5 224.7,356.6 225.3,355.7 226.0,354.9 226.4,353.9 227.0,352.8 227.2,351.7 227.2,350.6 227.0,349.5 226.6,348.5 226.2,347.4 226.3,346.3 226.3,345.2 226.4,344.1 227.1,343.3 227.8,342.6 228.5,341.8 229.1,340.9 229.5,339.9 230.4,339.1 231.5,338.8 232.5,338.3 233.5,337.8 234.5,337.3 235.5,336.2 234.9,335.3 234.0,334.5 233.4,333.6 232.6,332.9 232.0,332.1 231.2,332.9 230.5,333.9 229.7,334.6 228.7,335.1 227.3,335.6 226.5,334.4 225.7,333.3 224.9,332.8 224.2,331.9 223.3,331.2 222.5,330.5 221.6,329.7 221.2,328.8 220.7,327.9 220.7,326.9 220.1,325.9 219.6,324.8 219.0,323.9 218.1,323.2 217.2,322.7 215.9,322.6 214.8,322.2 213.9,321.5 213.3,320.7 212.9,319.7 212.2,318.9 211.6,318.1 211.1,317.1 210.4,316.4 209.5,315.9 208.8,315.1 207.8,314.3 206.8,314.5 205.7,314.6 204.6,315.1 203.6,315.5 202.6,316.0 201.5,316.5 200.6,316.1 199.7,317.1 198.8,317.4 197.7,317.6 196.7,317.8 195.7,318.1 194.7,318.7 193.6,318.8 192.6,319.0 191.5,319.1 190.5,319.4 189.4,319.5 188.4,319.1 187.5,318.7 186.6,318.2 185.5,318.1 184.5,318.1 183.5,317.9 182.6,317.4 181.8,316.7 180.9,316.1 179.9,315.6 178.9,316.1 177.8,316.3 176.7,316.1 175.6,316.0 174.6,316.3 173.5,316.6 172.5,317.2 171.5,317.4 170.4,317.1 168.8,316.8 168.2,317.6 168.0,318.6 167.8,319.6 167.8,320.7 167.5,321.7 167.1,322.6 166.6,323.5 166.1,324.4 166.0,325.1 165.1,324.4 164.4,323.6 163.7,322.8 162.8,322.1 162.0,321.4 161.1,320.7 160.5,319.6 160.5,318.4 160.3,317.3 159.8,316.4 159.4,315.4 159.0,314.4 158.5,313.4 158.3,312.3 158.4,311.1 159.0,310.1 159.5,309.1 159.4,308.0 159.3,306.9 158.8,305.8 158.6,304.7 158.8,303.7 158.9,302.6 159.6,301.7 160.0,300.6 160.1,299.5 160.2,298.4 160.1,297.3 160.0,296.3 159.6,295.2 159.5,294.2 159.2,293.1 158.6,292.1 158.2,291.4 157.7,290.4 157.2,289.4 156.6,288.6 156.0,287.7 155.0,287.2 154.1,286.7 153.1,286.2 152.6,285.6 151.6,285.0 150.6,284.6 149.6,284.6 148.5,284.4 147.5,284.1 146.5,283.6 145.6,283.0 144.3,282.6 143.3,282.8 142.3,283.2 141.4,283.6 140.3,283.6 139.3,283.5 138.3,283.1 138.0,284.2 138.2,283.1 138.4,282.1 138.8,281.1 139.4,280.2 139.7,279.2 139.8,277.6 138.8,277.5 137.8,277.2 136.8,277.4 135.6,277.8 134.6,277.8 134.3,277.4 133.2,277.9 132.1,278.3 131.1,278.6 130.1,279.2 129.1,279.7 128.4,280.6 127.5,281.3 126.7,282.1 125.8,282.7 124.8,282.9 123.8,283.1 122.8,283.3 121.6,283.2 121.2,283.4 120.5,282.7 119.7,282.0 118.9,281.4 118.0,280.8 117.0,280.5 115.9,280.2 114.9,279.8 114.2,279.0 113.6,278.1 113.0,277.2 112.4,276.3 111.9,275.3 111.0,274.8 110.0,274.4 109.0,273.8 108.5,272.8 108.0,272.1 107.9,271.0 107.9,269.9 108.1,268.8 107.8,267.7 107.4,266.7 106.9,265.6 106.8,264.5 106.8,263.5 107.3,262.3 107.3,261.2 106.9,260.2 106.5,259.1 106.3,258.1 106.3,257.0 106.1,255.9 105.8,254.9 105.5,253.8 105.2,252.8 105.2,251.7 105.4,250.6 105.5,249.5 105.7,248.4 105.8,247.3 105.4,246.3 104.8,245.3 104.3,244.2 104.1,243.2 104.4,242.1 104.4,241.0 104.9,239.9 104.6,238.4 103.8,237.7 102.7,237.3 101.7,236.9 100.7,236.4 99.9,235.7 99.3,234.7 99.0,233.9 98.6,233.0 97.8,232.2 97.0,231.5 96.3,230.7 95.8,229.8 95.6,228.7 95.7,227.7 95.6,226.6 95.5,225.6 95.4,224.6 95.1,223.6 94.8,222.6 94.1,221.8 93.4,220.9 92.3,221.2 91.1,221.3 90.1,221.1 89.1,220.5 88.2,219.9 87.1,219.5 86.1,219.7 85.1,220.2 84.2,220.8 83.3,221.1 82.2,221.0 81.2,220.9 80.1,220.8 79.1,220.8 78.1,221.2 77.2,221.4 76.2,221.5 75.2,222.1 74.3,222.6 73.5,222.7 72.5,223.2 71.6,223.7 70.3,223.8 69.2,223.9 68.2,224.5 67.3,225.2 66.5,225.9 65.7,226.6 65.0,227.6 64.3,228.4 63.5,228.9 62.9,229.7 62.0,230.5 61.3,231.3 60.6,232.1 59.9,233.0 59.2,233.8 58.9,234.9 58.4,235.9 58.0,236.9 57.5,237.9 56.7,238.8 56.1,237.8 55.4,236.9 54.6,236.1 53.9,235.3 53.0,234.6 52.2,233.8 51.5,232.9 50.6,232.1 49.9,231.2 49.0,230.6 48.2,229.9 47.0,229.8 45.8,229.7 44.8,229.2 43.9,228.6 43.1,227.8 42.3,227.1 41.5,226.3 41.0,225.6 40.3,224.8 39.4,224.2 38.4,223.7 37.5,223.1 36.7,222.4 36.5,221.3 36.5,220.0 36.0,219.1 35.4,218.3 34.6,217.5 33.7,216.9 32.7,216.5 31.6,216.0 31.4,215.4 30.5,214.8 29.7,214.1 28.8,213.6 27.9,213.1 27.0,212.5 26.0,212.4 25.1,212.1 24.4,211.9 24.0,210.9 23.3,210.1 22.5,209.4 21.6,208.8 21.0,208.0 20.3,207.2 19.9,206.2 19.7,205.2 19.6,204.1 19.4,203.2 19.4,202.1 19.1,201.0 18.9,200.0 18.6,199.0 18.2,198.0 17.8,197.0 17.6,195.9 17.2,194.9 16.6,193.9 16.5,192.9 16.2,191.8 15.7,190.7 16.2,189.7 16.9,188.8 17.6,188.0 18.1,187.0 18.6,186.0 19.0,185.1 18.7,184.0 18.3,183.0 18.2,181.8 18.0,180.7 18.0,179.6 18.3,178.4 18.0,177.3 17.7,176.3 17.0,175.5 16.5,174.6 16.1,173.5 15.7,172.5 15.2,171.6 14.4,170.8 13.9,169.7 13.8,168.7 13.9,167.6 13.5,166.6 13.2,165.6 12.8,164.6 12.6,163.6 12.8,162.5 12.3,161.5 12.1,160.5 12.0,159.5 11.8,158.5 11.3,157.5 11.0,156.5 10.7,155.5 10.8,154.4" fill="none" stroke="#1e1e1e" stroke-width="1.7" stroke-linejoin="round"/>
<ellipse cx="331.9" cy="81.7" rx="2.9" ry="3.8" transform="rotate(25 331.9 81.7)" fill="#1e1e1e"/>
<g style="will-change:transform">
<rect x="563" y="96" width="26" height="66" fill="#e31a1c"/>
<rect x="563" y="162" width="26" height="66" fill="#fd5b2e"/>
<rect x="563" y="228" width="26" height="66" fill="#fd9a44"/>
<rect x="563" y="294" width="26" height="66" fill="#fec762"/>
<rect x="563" y="360" width="26" height="66" fill="#fee391"/>
<rect x="563" y="426" width="26" height="66" fill="#fffbcc"/>
<text x="601.5" y="101.6" font-size="14.3" fill="#111">130</text>
<text x="601.5" y="167.6" font-size="14.3" fill="#111">125</text>
<text x="601.5" y="233.6" font-size="14.3" fill="#111">120</text>
<text x="601.5" y="299.6" font-size="14.3" fill="#111">115</text>
<text x="601.5" y="365.6" font-size="14.3" fill="#111">110</text>
<text x="601.5" y="431.6" font-size="14.3" fill="#111">105</text>
<text x="601.5" y="497.6" font-size="14.3" fill="#111">100</text>
<text x="580.5" y="73.5" font-size="14.3" font-weight="bold" letter-spacing="0.4" fill="#111">kWh/m²</text>
<text x="79" y="30.9" font-size="14.3" font-weight="bold" letter-spacing="0.27" fill="#111">Globale zonnestraling</text>
<text x="78" y="51.6" font-size="12.8" letter-spacing="0.17" fill="#111">totaal september 2023</text>
</g>
<path d="M7.2,5.2 L19.5,5.2 C22,7.5 23.5,9 24.7,10.5 C27,14 28.5,17 28.5,18 C29.3,22 29.4,26 29.2,26.2 C29,30 28.4,33 27.7,36 C26.5,39.5 25.5,41.5 24,43.5 C22.8,46 22,48 21.7,49.5 L21,53.2 L7.2,53.2 Z" fill="#0055ee"/>
<path d="M55.5,8.2 C53,8.6 51.5,9.3 51,9.7 C48.5,11 47,12.2 45.7,13.5 C43.8,15.5 42.7,17 42,18.7 C41,21.5 40.5,24 40.2,26.2 C39.8,28.5 39.5,30.5 39,32.2 C38,34.7 36.5,36.5 34.5,38.2 C31.5,41 29.5,43 27.7,45 C26,47 25,48.5 24.7,49.5 L24,53.2 L55.5,53.2 Z" fill="#0055ee"/>
<path d="M7.3,55.9 H10.1 V70.8 H7.3 Z M10.1,61.4 L18.3,55.9 H21.9 L10.1,64.3 Z M12.6,62.3 L14.6,60.6 L22.3,70.8 H18.9 Z M24.1,70.8 V55.9 H27.3 L35.5,67.2 L43.8,55.9 H46.9 V70.8 H44.2 V60.2 L36.9,70.4 H34.1 L26.8,60.2 V70.8 Z M53,55.9 H55.7 V70.8 H53 Z" fill="#0055ee"/>
</svg></body></html>
